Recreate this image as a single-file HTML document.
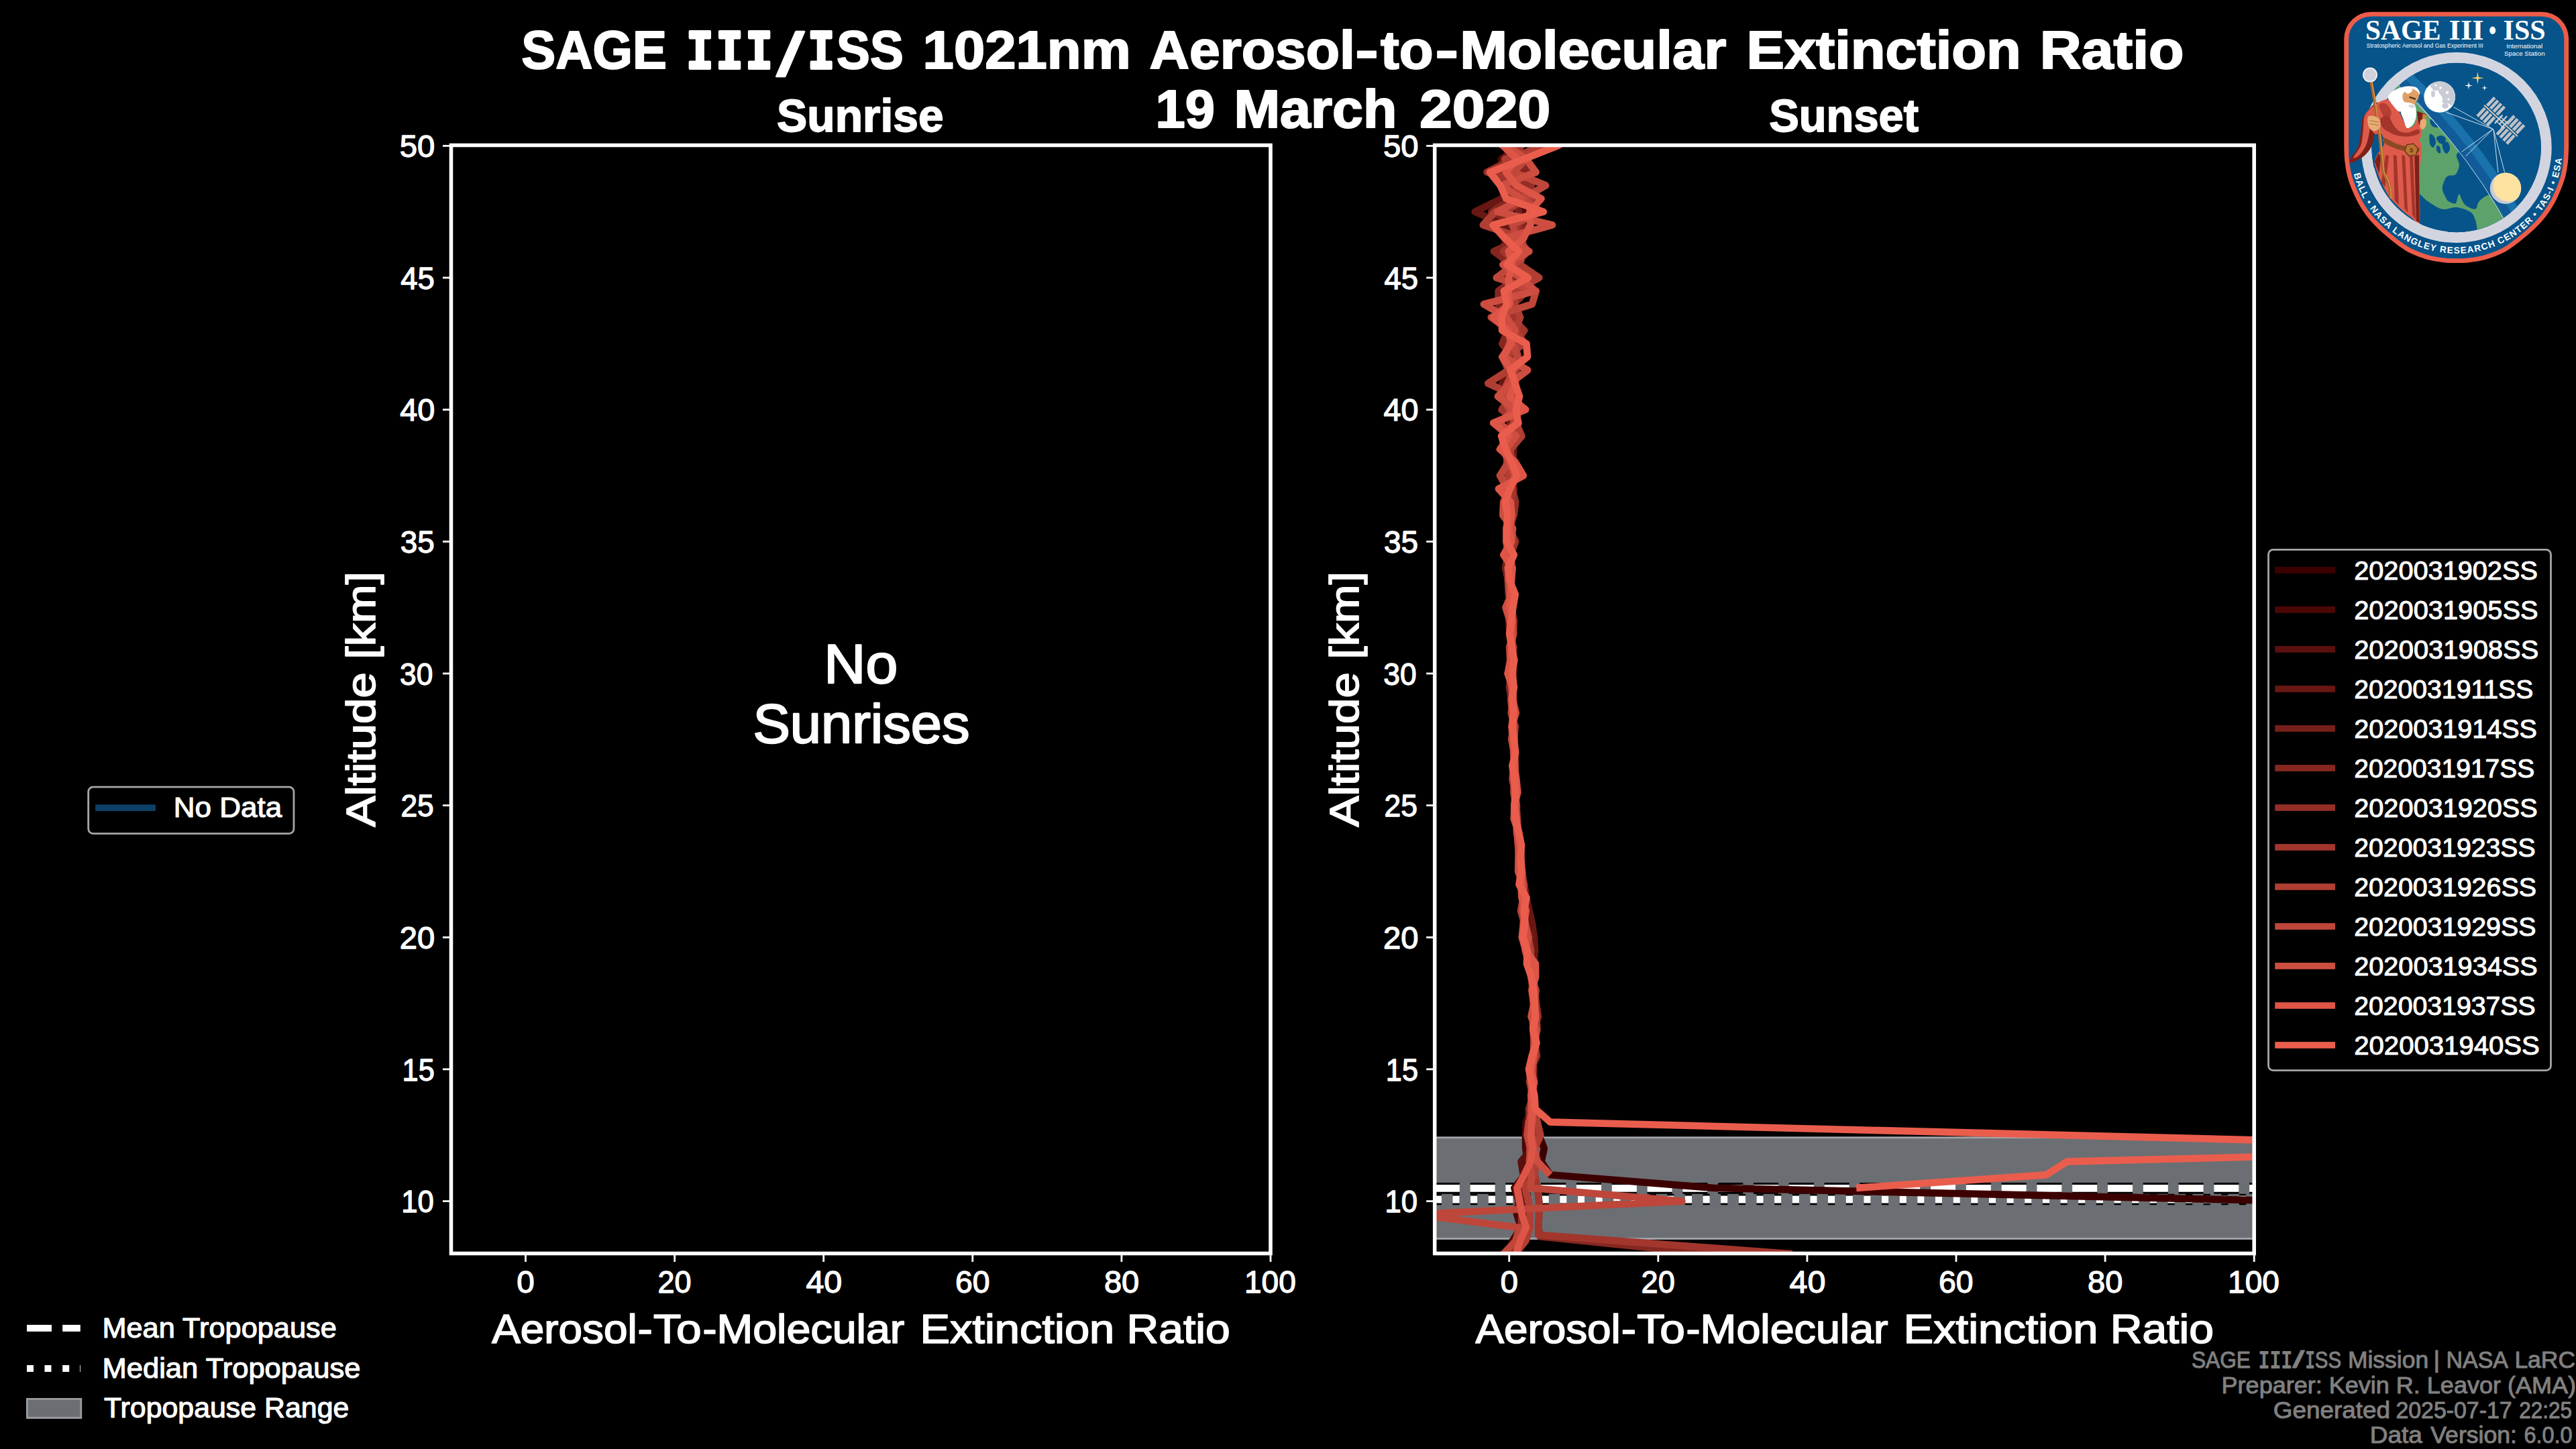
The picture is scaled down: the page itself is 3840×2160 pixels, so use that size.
<!DOCTYPE html>
<html lang="en"><head><meta charset="utf-8"><title>SAGE III/ISS 1021nm Aerosol-to-Molecular Extinction Ratio</title>
<style>html,body{margin:0;padding:0;background:#000;overflow:hidden}svg{display:block}text{font-family:'Liberation Sans',sans-serif}</style></head><body>
<svg width="3840" height="2160" viewBox="0 0 3840 2160">
<rect width="3840" height="2160" fill="#000"/>
<defs><clipPath id="c2"><rect x="2138.7" y="216.5" width="1221.5" height="1652.0"/></clipPath></defs>
<g clip-path="url(#c2)">
<rect x="2138.7" y="1695.7" width="1221.5" height="150.8" fill="#6b6f74" stroke="#a3a5a8" stroke-width="2.8"/>
<path d="M2138.7 1771.3H3360.2" stroke="#000" stroke-width="16.7" stroke-dasharray="37.2 15.6" fill="none"/>
<path d="M2138.7 1771.3H3360.2" stroke="#fff" stroke-width="10.8" stroke-dasharray="37.2 15.6" fill="none"/>
<path d="M2138.7 1788.0H3360.2" stroke="#000" stroke-width="16.7" stroke-dasharray="10.25 16.4" fill="none"/>
<path d="M2138.7 1788.0H3360.2" stroke="#fff" stroke-width="10.8" stroke-dasharray="10.25 16.4" fill="none"/>
<path d="M2253.9 197.7L2253.0 217.4L2247.6 237.1L2255.0 256.7L2268.9 276.4L2262.6 296.1L2268.3 315.7L2259.0 335.4L2259.3 355.1L2256.5 374.7L2241.6 394.4L2259.3 414.0L2256.7 433.7L2256.3 453.4L2243.2 473.0L2243.1 492.7L2247.9 512.4L2250.0 532.0L2253.6 551.7L2251.8 571.4L2253.9 591.0L2249.0 610.7L2252.5 630.4L2252.5 650.0L2249.0 669.7L2255.9 689.4L2252.3 709.0L2253.6 728.7L2249.1 748.4L2248.8 768.0L2249.6 787.7L2250.1 807.3L2251.6 827.0L2251.2 846.7L2250.6 866.3L2250.3 886.0L2251.2 905.7L2253.4 925.3L2251.5 945.0L2252.9 964.7L2253.3 984.3L2252.1 1004.0L2253.9 1023.7L2255.5 1043.3L2253.5 1063.0L2255.4 1082.7L2256.1 1102.3L2256.2 1122.0L2257.7 1141.7L2257.9 1161.3L2257.5 1181.0L2259.7 1200.7L2261.1 1220.3L2262.9 1240.0L2264.8 1259.6L2265.6 1279.3L2266.9 1299.0L2267.5 1318.6L2270.9 1338.3L2271.3 1358.0L2273.1 1377.6L2273.6 1397.3L2276.5 1417.0L2279.6 1436.6L2284.3 1456.3L2283.1 1476.0L2286.4 1495.6L2288.4 1515.3L2289.0 1535.0L2287.6 1554.6L2283.9 1574.3L2281.8 1593.9L2284.0 1613.6L2283.6 1633.3L2283.7 1652.9L2285.8 1672.6L2294.2 1692.3L2301.9 1711.9L2297.5 1731.6L2310.8 1751.3L2554.0 1770.9L3424.7 1790.6" stroke="#3d0000" stroke-width="10.6" fill="none" stroke-linejoin="round" stroke-linecap="butt" opacity="1"/>
<path d="M2250.4 197.7L2266.5 217.4L2237.6 237.1L2256.3 256.7L2270.9 276.4L2243.8 296.1L2278.4 315.7L2264.1 335.4L2255.5 355.1L2259.4 374.7L2261.0 394.4L2255.9 414.0L2263.2 433.7L2249.8 453.4L2251.5 473.0L2260.8 492.7L2254.1 512.4L2248.6 532.0L2258.7 551.7L2260.8 571.4L2250.9 591.0L2246.6 610.7L2252.1 630.4L2252.0 650.0L2251.3 669.7L2256.9 689.4L2248.8 709.0L2255.4 728.7L2248.2 748.4L2249.4 768.0L2252.5 787.7L2253.2 807.3L2252.9 827.0L2252.1 846.7L2252.0 866.3L2252.3 886.0L2253.1 905.7L2252.4 925.3L2253.2 945.0L2253.7 964.7L2253.4 984.3L2254.4 1004.0L2254.8 1023.7L2256.7 1043.3L2255.7 1063.0L2255.6 1082.7L2256.2 1102.3L2257.1 1122.0L2258.4 1141.7L2258.0 1161.3L2259.1 1181.0L2260.9 1200.7L2258.8 1220.3L2261.6 1240.0L2264.3 1259.6L2266.0 1279.3L2267.4 1299.0L2268.5 1318.6L2271.5 1338.3L2272.9 1358.0L2273.5 1377.6L2280.0 1397.3L2278.9 1417.0L2280.1 1436.6L2283.2 1456.3L2285.6 1476.0L2288.4 1495.6L2285.5 1515.3L2287.6 1535.0L2288.4 1554.6L2284.8 1574.3L2284.4 1593.9L2285.1 1613.6L2283.2 1633.3L2282.1 1652.9L2274.9 1672.6L2273.8 1692.3L2274.2 1711.9L2276.9 1731.6L2272.7 1751.3L2257.3 1770.9L2263.8 1790.6L2261.0 1810.3L2267.6 1829.9L2254.6 1849.6L2249.4 1869.3L2244.3 1888.9" stroke="#4b0806" stroke-width="10.6" fill="none" stroke-linejoin="round" stroke-linecap="butt" opacity="1"/>
<path d="M2266.1 197.7L2257.9 217.4L2255.6 237.1L2277.2 256.7L2271.8 276.4L2254.4 296.1L2295.7 315.7L2241.9 335.4L2266.8 355.1L2252.2 374.7L2255.6 394.4L2260.0 414.0L2255.5 433.7L2258.5 453.4L2241.5 473.0L2241.9 492.7L2257.0 512.4L2246.2 532.0L2246.0 551.7L2243.5 571.4L2258.9 591.0L2255.5 610.7L2258.6 630.4L2247.3 650.0L2251.2 669.7L2246.7 689.4L2253.6 709.0L2256.0 728.7L2247.9 748.4L2254.8 768.0L2252.8 787.7L2250.0 807.3L2246.6 827.0L2253.6 846.7L2251.1 866.3L2250.6 886.0L2252.4 905.7L2252.7 925.3L2254.4 945.0L2251.4 964.7L2254.3 984.3L2255.0 1004.0L2255.5 1023.7L2254.3 1043.3L2254.3 1063.0L2256.7 1082.7L2256.3 1102.3L2256.9 1122.0L2258.7 1141.7L2257.7 1161.3L2256.5 1181.0L2258.8 1200.7L2258.9 1220.3L2263.0 1240.0L2264.1 1259.6L2264.7 1279.3L2266.9 1299.0L2269.5 1318.6L2270.4 1338.3L2274.0 1358.0L2273.7 1377.6L2277.4 1397.3L2280.4 1417.0L2283.0 1436.6L2281.8 1456.3L2286.7 1476.0L2285.4 1495.6L2286.8 1515.3L2285.4 1535.0L2288.3 1554.6L2284.2 1574.3L2284.1 1593.9L2283.4 1613.6L2284.1 1633.3L2283.5 1652.9L2284.0 1672.6L2286.0 1692.3L2283.4 1711.9L2267.5 1731.6L2270.8 1751.3L2270.0 1770.9L2267.9 1790.6L2271.0 1810.3L2277.0 1829.9L2262.4 1849.6L2256.3 1869.3L2252.6 1888.9" stroke="#5a100d" stroke-width="10.6" fill="none" stroke-linejoin="round" stroke-linecap="butt" opacity="1"/>
<path d="M2268.9 197.7L2260.0 217.4L2241.5 237.1L2236.0 256.7L2249.9 276.4L2238.6 296.1L2198.7 315.7L2244.2 335.4L2247.2 355.1L2237.8 374.7L2254.5 394.4L2243.8 414.0L2258.6 433.7L2233.7 453.4L2257.6 473.0L2249.3 492.7L2239.2 512.4L2259.5 532.0L2252.0 551.7L2239.1 571.4L2248.1 591.0L2255.0 610.7L2250.7 630.4L2256.8 650.0L2256.2 669.7L2255.5 689.4L2253.8 709.0L2257.1 728.7L2254.2 748.4L2253.1 768.0L2245.6 787.7L2253.5 807.3L2254.6 827.0L2251.2 846.7L2251.1 866.3L2255.7 886.0L2249.5 905.7L2253.5 925.3L2256.7 945.0L2251.9 964.7L2254.4 984.3L2256.1 1004.0L2254.2 1023.7L2255.6 1043.3L2256.5 1063.0L2255.1 1082.7L2256.6 1102.3L2257.5 1122.0L2258.6 1141.7L2258.3 1161.3L2258.7 1181.0L2258.5 1200.7L2260.7 1220.3L2263.6 1240.0L2264.3 1259.6L2264.8 1279.3L2266.3 1299.0L2272.4 1318.6L2275.3 1338.3L2279.7 1358.0L2284.2 1377.6L2287.0 1397.3L2288.1 1417.0L2286.4 1436.6L2284.3 1456.3L2286.0 1476.0L2289.4 1495.6L2286.0 1515.3L2289.7 1535.0L2288.0 1554.6L2285.2 1574.3L2286.4 1593.9L2286.8 1613.6L2282.4 1633.3L2283.5 1652.9L2284.3 1672.6L2283.3 1692.3L2282.5 1711.9L2282.4 1731.6L2284.0 1751.3L2272.7 1770.9L2267.8 1790.6L2269.1 1810.3L2278.9 1829.9L2268.3 1849.6L2262.1 1869.3L2252.6 1888.9" stroke="#681713" stroke-width="10.6" fill="none" stroke-linejoin="round" stroke-linecap="butt" opacity="1"/>
<path d="M2221.7 197.7L2243.4 217.4L2254.6 237.1L2264.5 256.7L2244.6 276.4L2255.1 296.1L2264.3 315.7L2261.6 335.4L2264.2 355.1L2256.7 374.7L2249.1 394.4L2261.2 414.0L2252.9 433.7L2244.0 453.4L2246.0 473.0L2251.8 492.7L2250.6 512.4L2252.6 532.0L2251.1 551.7L2252.2 571.4L2249.8 591.0L2242.5 610.7L2252.8 630.4L2255.9 650.0L2252.2 669.7L2249.0 689.4L2251.7 709.0L2245.8 728.7L2242.5 748.4L2249.8 768.0L2246.7 787.7L2251.7 807.3L2247.2 827.0L2244.1 846.7L2248.4 866.3L2254.2 886.0L2250.6 905.7L2249.2 925.3L2250.7 945.0L2253.1 964.7L2253.3 984.3L2253.2 1004.0L2255.5 1023.7L2255.1 1043.3L2254.7 1063.0L2256.1 1082.7L2257.9 1102.3L2257.6 1122.0L2258.2 1141.7L2256.5 1161.3L2258.1 1181.0L2259.7 1200.7L2260.0 1220.3L2263.2 1240.0L2264.2 1259.6L2266.2 1279.3L2266.3 1299.0L2271.7 1318.6L2271.9 1338.3L2271.2 1358.0L2273.4 1377.6L2280.8 1397.3L2276.5 1417.0L2281.6 1436.6L2284.3 1456.3L2285.0 1476.0L2285.6 1495.6L2288.1 1515.3L2287.9 1535.0L2288.3 1554.6L2286.4 1574.3L2283.8 1593.9L2284.6 1613.6L2284.6 1633.3L2284.3 1652.9L2283.5 1672.6L2282.2 1692.3L2284.6 1711.9L2281.7 1731.6L2277.6 1751.3L2270.1 1770.9L2266.5 1790.6L2270.6 1810.3L2269.4 1829.9L2263.6 1849.6L2258.6 1869.3L2251.5 1888.9" stroke="#771f1a" stroke-width="10.6" fill="none" stroke-linejoin="round" stroke-linecap="butt" opacity="1"/>
<path d="M2232.4 197.7L2287.2 217.4L2265.8 237.1L2276.8 256.7L2242.0 276.4L2255.1 296.1L2223.3 315.7L2270.6 335.4L2271.3 355.1L2226.9 374.7L2253.7 394.4L2261.5 414.0L2233.6 433.7L2233.6 453.4L2242.2 473.0L2246.9 492.7L2239.7 512.4L2253.0 532.0L2254.6 551.7L2257.3 571.4L2257.3 591.0L2262.3 610.7L2259.2 630.4L2243.7 650.0L2248.6 669.7L2245.7 689.4L2245.9 709.0L2250.6 728.7L2250.8 748.4L2252.4 768.0L2245.1 787.7L2246.8 807.3L2250.7 827.0L2250.5 846.7L2250.6 866.3L2251.5 886.0L2250.3 905.7L2253.6 925.3L2253.1 945.0L2252.6 964.7L2252.0 984.3L2253.1 1004.0L2250.0 1023.7L2253.2 1043.3L2255.2 1063.0L2253.7 1082.7L2256.5 1102.3L2257.0 1122.0L2255.7 1141.7L2257.7 1161.3L2258.2 1181.0L2259.7 1200.7L2261.5 1220.3L2262.2 1240.0L2262.7 1259.6L2265.2 1279.3L2266.8 1299.0L2269.8 1318.6L2270.9 1338.3L2270.7 1358.0L2270.8 1377.6L2274.6 1397.3L2276.2 1417.0L2277.9 1436.6L2282.7 1456.3L2284.5 1476.0L2288.3 1495.6L2289.2 1515.3L2287.2 1535.0L2290.6 1554.6L2285.2 1574.3L2286.0 1593.9L2283.9 1613.6L2285.7 1633.3L2278.8 1652.9L2280.8 1672.6L2281.8 1692.3L2283.1 1711.9L2288.6 1731.6L2287.5 1751.3L2291.9 1770.9L2294.2 1790.6L2294.2 1810.3L2293.1 1829.9L2295.8 1843.3L2549.6 1869.3" stroke="#852720" stroke-width="10.6" fill="none" stroke-linejoin="round" stroke-linecap="butt" opacity="1"/>
<path d="M2263.0 197.7L2297.4 217.4L2254.7 237.1L2216.4 256.7L2283.0 276.4L2261.1 296.1L2243.2 315.7L2263.9 335.4L2268.4 355.1L2268.8 374.7L2245.2 394.4L2278.8 414.0L2276.6 433.7L2255.8 453.4L2258.5 473.0L2250.6 492.7L2269.5 512.4L2247.9 532.0L2260.8 551.7L2250.2 571.4L2248.5 591.0L2259.4 610.7L2263.2 630.4L2253.5 650.0L2249.3 669.7L2257.9 689.4L2252.8 709.0L2254.3 728.7L2259.3 748.4L2256.7 768.0L2249.9 787.7L2259.1 807.3L2251.9 827.0L2254.3 846.7L2250.6 866.3L2252.4 886.0L2248.8 905.7L2256.8 925.3L2256.0 945.0L2251.2 964.7L2251.1 984.3L2251.4 1004.0L2256.4 1023.7L2254.4 1043.3L2255.6 1063.0L2255.8 1082.7L2256.6 1102.3L2255.9 1122.0L2258.0 1141.7L2256.6 1161.3L2259.0 1181.0L2260.1 1200.7L2261.9 1220.3L2262.5 1240.0L2263.0 1259.6L2266.2 1279.3L2266.8 1299.0L2271.8 1318.6L2272.6 1338.3L2272.7 1358.0L2273.6 1377.6L2274.7 1397.3L2276.5 1417.0L2280.5 1436.6L2284.5 1456.3L2287.4 1476.0L2290.0 1495.6L2292.9 1515.3L2287.2 1535.0L2287.8 1554.6L2291.1 1574.3L2281.5 1593.9L2283.5 1613.6L2284.0 1633.3L2283.0 1652.9L2281.7 1672.6L2278.3 1692.3L2280.3 1711.9L2280.6 1731.6L2277.7 1751.3L2261.1 1770.9L2263.9 1790.6L2268.2 1810.3L2267.9 1829.9L2258.8 1849.6L2255.7 1869.3L2244.5 1888.9" stroke="#942e26" stroke-width="10.6" fill="none" stroke-linejoin="round" stroke-linecap="butt" opacity="1"/>
<path d="M2263.6 197.7L2267.6 217.4L2255.9 237.1L2229.2 256.7L2258.5 276.4L2269.6 296.1L2247.1 315.7L2256.0 335.4L2271.5 355.1L2241.0 374.7L2265.7 394.4L2281.3 414.0L2247.4 433.7L2256.6 453.4L2252.6 473.0L2272.3 492.7L2257.6 512.4L2263.3 532.0L2246.8 551.7L2253.3 571.4L2253.2 591.0L2238.5 610.7L2263.8 630.4L2259.0 650.0L2241.0 669.7L2257.0 689.4L2251.4 709.0L2254.3 728.7L2253.5 748.4L2244.9 768.0L2250.4 787.7L2256.4 807.3L2249.5 827.0L2248.5 846.7L2248.1 866.3L2249.0 886.0L2253.2 905.7L2256.5 925.3L2253.8 945.0L2253.7 964.7L2257.6 984.3L2252.8 1004.0L2253.2 1023.7L2255.8 1043.3L2256.3 1063.0L2254.4 1082.7L2254.8 1102.3L2257.6 1122.0L2258.1 1141.7L2256.5 1161.3L2258.6 1181.0L2258.6 1200.7L2261.7 1220.3L2262.4 1240.0L2264.0 1259.6L2265.1 1279.3L2269.1 1299.0L2271.5 1318.6L2270.0 1338.3L2274.6 1358.0L2272.4 1377.6L2276.4 1397.3L2280.5 1417.0L2284.9 1436.6L2282.5 1456.3L2285.8 1476.0L2288.9 1495.6L2285.6 1515.3L2288.2 1535.0L2286.3 1554.6L2286.7 1574.3L2282.4 1593.9L2280.1 1613.6L2285.2 1633.3L2286.6 1652.9L2284.6 1672.6L2288.4 1692.3L2285.5 1711.9L2285.6 1731.6L2287.5 1751.3L2291.9 1770.9L2294.2 1790.6L2294.2 1810.3L2293.1 1829.9L2293.1 1840.9L2671.7 1869.3" stroke="#a2362d" stroke-width="10.6" fill="none" stroke-linejoin="round" stroke-linecap="butt" opacity="1"/>
<path d="M2242.2 197.7L2307.5 217.4L2243.4 237.1L2258.4 256.7L2262.6 276.4L2283.1 296.1L2228.7 315.7L2210.8 335.4L2269.1 355.1L2270.9 374.7L2265.6 394.4L2294.3 414.0L2257.3 433.7L2257.7 453.4L2266.2 473.0L2258.4 492.7L2273.4 512.4L2239.3 532.0L2249.1 551.7L2218.2 571.4L2260.4 591.0L2249.2 610.7L2259.9 630.4L2268.4 650.0L2251.9 669.7L2250.1 689.4L2248.6 709.0L2246.7 728.7L2248.0 748.4L2254.1 768.0L2251.0 787.7L2251.1 807.3L2250.5 827.0L2254.3 846.7L2253.1 866.3L2251.5 886.0L2253.9 905.7L2252.0 925.3L2250.0 945.0L2256.1 964.7L2254.2 984.3L2251.8 1004.0L2256.1 1023.7L2255.3 1043.3L2252.6 1063.0L2258.6 1082.7L2257.0 1102.3L2258.4 1122.0L2257.9 1141.7L2257.9 1161.3L2256.3 1181.0L2260.9 1200.7L2260.9 1220.3L2261.9 1240.0L2264.6 1259.6L2265.7 1279.3L2268.4 1299.0L2268.1 1318.6L2270.5 1338.3L2267.0 1358.0L2272.9 1377.6L2278.0 1397.3L2282.2 1417.0L2279.7 1436.6L2282.9 1456.3L2289.7 1476.0L2287.5 1495.6L2290.1 1515.3L2291.4 1535.0L2287.4 1554.6L2288.3 1574.3L2282.9 1593.9L2284.4 1613.6L2285.8 1633.3L2288.0 1652.9L2291.7 1672.6L2296.5 1692.3L2287.8 1711.9L2289.2 1731.6L2287.7 1751.3L2273.5 1770.9L2278.7 1790.6L2280.7 1810.3L2280.5 1829.9L2274.4 1849.6L2258.5 1869.3L2259.9 1888.9" stroke="#b03e33" stroke-width="10.6" fill="none" stroke-linejoin="round" stroke-linecap="butt" opacity="1"/>
<path d="M2241.1 197.7L2244.7 217.4L2274.5 237.1L2256.9 256.7L2304.2 276.4L2269.7 296.1L2295.7 315.7L2254.6 335.4L2261.6 355.1L2277.8 374.7L2256.8 394.4L2230.7 414.0L2289.8 433.7L2283.8 453.4L2222.8 473.0L2250.1 492.7L2255.8 512.4L2261.9 532.0L2257.7 551.7L2246.9 571.4L2239.0 591.0L2250.4 610.7L2258.3 630.4L2240.3 650.0L2241.1 669.7L2248.6 689.4L2235.9 709.0L2247.1 728.7L2246.3 748.4L2251.0 768.0L2245.6 787.7L2245.4 807.3L2247.9 827.0L2249.6 846.7L2248.0 866.3L2250.6 886.0L2253.0 905.7L2254.4 925.3L2255.8 945.0L2250.1 964.7L2251.3 984.3L2247.6 1004.0L2257.0 1023.7L2252.4 1043.3L2254.4 1063.0L2256.0 1082.7L2253.2 1102.3L2257.0 1122.0L2256.8 1141.7L2254.5 1161.3L2258.5 1181.0L2260.6 1200.7L2256.8 1220.3L2263.1 1240.0L2263.5 1259.6L2265.6 1279.3L2267.1 1299.0L2270.6 1318.6L2269.0 1338.3L2273.5 1358.0L2271.5 1377.6L2276.8 1397.3L2274.1 1417.0L2279.0 1436.6L2286.8 1456.3L2285.7 1476.0L2286.7 1495.6L2284.7 1515.3L2285.3 1535.0L2286.8 1554.6L2286.9 1574.3L2284.3 1593.9L2284.1 1613.6L2282.2 1633.3L2285.1 1652.9L2278.7 1672.6L2276.4 1692.3L2281.4 1711.9L2279.7 1731.6L2283.1 1751.3L2282.0 1770.9L2507.4 1790.6L2108.7 1810.3L2264.7 1829.9L2259.7 1849.6L2240.9 1869.3L2246.0 1888.9" stroke="#bf463a" stroke-width="10.6" fill="none" stroke-linejoin="round" stroke-linecap="butt" opacity="1"/>
<path d="M2247.9 197.7L2246.6 217.4L2275.2 237.1L2289.6 256.7L2238.4 276.4L2268.7 296.1L2232.3 315.7L2314.0 335.4L2242.9 355.1L2279.4 374.7L2240.3 394.4L2266.4 414.0L2288.8 433.7L2211.9 453.4L2245.2 473.0L2258.7 492.7L2250.1 512.4L2242.5 532.0L2277.2 551.7L2251.6 571.4L2232.8 591.0L2258.9 610.7L2234.1 630.4L2259.9 650.0L2245.2 669.7L2250.7 689.4L2258.4 709.0L2250.3 728.7L2241.2 748.4L2240.3 768.0L2255.1 787.7L2252.7 807.3L2246.6 827.0L2253.4 846.7L2252.3 866.3L2253.0 886.0L2244.5 905.7L2250.7 925.3L2254.3 945.0L2254.0 964.7L2254.6 984.3L2247.6 1004.0L2253.9 1023.7L2255.1 1043.3L2259.8 1063.0L2253.4 1082.7L2255.2 1102.3L2256.5 1122.0L2258.6 1141.7L2256.9 1161.3L2260.2 1181.0L2257.3 1200.7L2260.8 1220.3L2260.8 1240.0L2263.7 1259.6L2263.5 1279.3L2263.1 1299.0L2270.5 1318.6L2270.6 1338.3L2269.9 1358.0L2273.8 1377.6L2278.3 1397.3L2273.8 1417.0L2279.3 1436.6L2283.9 1456.3L2286.4 1476.0L2286.6 1495.6L2282.4 1515.3L2290.2 1535.0L2287.4 1554.6L2285.2 1574.3L2283.0 1593.9L2283.8 1613.6L2283.1 1633.3L2282.1 1652.9L2282.6 1672.6L2282.8 1692.3L2286.4 1711.9L2291.9 1731.6L2310.8 1751.3" stroke="#cd4e40" stroke-width="10.6" fill="none" stroke-linejoin="round" stroke-linecap="butt" opacity="1"/>
<path d="M2211.6 197.7L2240.8 217.4L2261.4 237.1L2244.9 256.7L2260.4 276.4L2297.5 296.1L2280.1 315.7L2281.4 335.4L2270.9 355.1L2248.8 374.7L2254.2 394.4L2249.2 414.0L2248.5 433.7L2250.7 453.4L2226.0 473.0L2248.2 492.7L2252.8 512.4L2239.5 532.0L2252.4 551.7L2258.7 571.4L2250.4 591.0L2274.2 610.7L2226.1 630.4L2249.8 650.0L2235.9 669.7L2259.2 689.4L2270.9 709.0L2233.9 728.7L2251.7 748.4L2253.7 768.0L2249.0 787.7L2253.1 807.3L2241.3 827.0L2254.5 846.7L2252.8 866.3L2251.8 886.0L2250.1 905.7L2254.2 925.3L2251.2 945.0L2253.4 964.7L2251.8 984.3L2248.3 1004.0L2253.9 1023.7L2255.0 1043.3L2256.8 1063.0L2253.9 1082.7L2256.3 1102.3L2258.1 1122.0L2257.8 1141.7L2260.3 1161.3L2262.4 1181.0L2257.4 1200.7L2256.9 1220.3L2264.1 1240.0L2267.1 1259.6L2267.4 1279.3L2268.8 1299.0L2267.3 1318.6L2268.5 1338.3L2274.9 1358.0L2270.8 1377.6L2268.8 1397.3L2274.4 1417.0L2289.0 1436.6L2289.2 1456.3L2283.5 1476.0L2286.1 1495.6L2288.9 1515.3L2286.0 1535.0L2290.2 1554.6L2285.6 1574.3L2281.5 1593.9L2287.2 1613.6L2282.6 1633.3L2285.0 1652.9L2283.6 1672.6L2281.8 1692.3L2284.5 1711.9L2281.7 1731.6L2272.1 1751.3L2261.5 1770.9L2265.2 1790.6L2268.9 1810.3L2274.8 1829.9L2266.1 1849.6L2260.0 1869.3L2251.0 1888.9" stroke="#dc5547" stroke-width="10.6" fill="none" stroke-linejoin="round" stroke-linecap="butt" opacity="1"/>
<path d="M2355.2 197.7L2321.9 217.4L2272.0 237.1L2220.9 256.7L2236.4 276.4L2245.3 296.1L2300.8 315.7L2225.3 335.4L2243.1 355.1L2264.2 374.7L2246.4 394.4L2278.0 414.0L2241.9 433.7L2246.0 453.4L2238.5 473.0L2239.1 492.7L2275.5 512.4L2277.0 532.0L2251.6 551.7L2258.4 571.4L2265.1 591.0L2259.8 610.7L2263.1 630.4L2238.1 650.0L2244.4 669.7L2253.8 689.4L2261.1 709.0L2250.6 728.7L2244.0 748.4L2247.5 768.0L2246.0 787.7L2245.6 807.3L2256.8 827.0L2247.8 846.7L2250.8 866.3L2258.7 886.0L2255.4 905.7L2252.8 925.3L2250.2 945.0L2253.5 964.7L2256.9 984.3L2254.5 1004.0L2256.6 1023.7L2254.4 1043.3L2255.9 1063.0L2254.9 1082.7L2256.9 1102.3L2259.2 1122.0L2254.3 1141.7L2257.6 1161.3L2258.8 1181.0L2257.7 1200.7L2259.7 1220.3L2263.7 1240.0L2268.0 1259.6L2266.5 1279.3L2267.3 1299.0L2264.5 1318.6L2275.4 1338.3L2271.9 1358.0L2273.2 1377.6L2270.4 1397.3L2277.1 1417.0L2275.9 1436.6L2282.7 1456.3L2286.5 1476.0L2287.7 1495.6L2288.6 1515.3L2285.2 1535.0L2290.3 1554.6L2283.6 1574.3L2279.0 1593.9L2282.8 1613.6L2287.5 1633.3L2288.6 1652.9L2310.8 1672.6L3854.4 1711.9L3081.5 1731.6L3050.4 1751.3L2767.2 1770.9" stroke="#ea5d4d" stroke-width="10.6" fill="none" stroke-linejoin="round" stroke-linecap="butt" opacity="1"/>
</g>
<rect x="660.0" y="1789.2" width="10" height="2.8" fill="#fff"/>
<rect x="660.0" y="1592.5" width="10" height="2.8" fill="#fff"/>
<rect x="660.0" y="1395.9" width="10" height="2.8" fill="#fff"/>
<rect x="660.0" y="1199.2" width="10" height="2.8" fill="#fff"/>
<rect x="660.0" y="1002.6" width="10" height="2.8" fill="#fff"/>
<rect x="660.0" y="805.9" width="10" height="2.8" fill="#fff"/>
<rect x="660.0" y="609.3" width="10" height="2.8" fill="#fff"/>
<rect x="660.0" y="412.6" width="10" height="2.8" fill="#fff"/>
<rect x="660.0" y="216.0" width="10" height="2.8" fill="#fff"/>
<rect x="782.1" y="1871.0" width="2.8" height="10" fill="#fff"/>
<rect x="1004.3" y="1871.0" width="2.8" height="10" fill="#fff"/>
<rect x="1226.3" y="1871.0" width="2.8" height="10" fill="#fff"/>
<rect x="1448.4" y="1871.0" width="2.8" height="10" fill="#fff"/>
<rect x="1670.5" y="1871.0" width="2.8" height="10" fill="#fff"/>
<rect x="1892.6" y="1871.0" width="2.8" height="10" fill="#fff"/>
<rect x="672.5" y="216.5" width="1221.5" height="1652.0" fill="none" stroke="#fff" stroke-width="5.56"/>
<rect x="2126.2" y="1789.2" width="10" height="2.8" fill="#fff"/>
<rect x="2126.2" y="1592.5" width="10" height="2.8" fill="#fff"/>
<rect x="2126.2" y="1395.9" width="10" height="2.8" fill="#fff"/>
<rect x="2126.2" y="1199.2" width="10" height="2.8" fill="#fff"/>
<rect x="2126.2" y="1002.6" width="10" height="2.8" fill="#fff"/>
<rect x="2126.2" y="805.9" width="10" height="2.8" fill="#fff"/>
<rect x="2126.2" y="609.3" width="10" height="2.8" fill="#fff"/>
<rect x="2126.2" y="412.6" width="10" height="2.8" fill="#fff"/>
<rect x="2126.2" y="216.0" width="10" height="2.8" fill="#fff"/>
<rect x="2248.3" y="1871.0" width="2.8" height="10" fill="#fff"/>
<rect x="2470.4" y="1871.0" width="2.8" height="10" fill="#fff"/>
<rect x="2692.5" y="1871.0" width="2.8" height="10" fill="#fff"/>
<rect x="2914.6" y="1871.0" width="2.8" height="10" fill="#fff"/>
<rect x="3136.7" y="1871.0" width="2.8" height="10" fill="#fff"/>
<rect x="3358.8" y="1871.0" width="2.8" height="10" fill="#fff"/>
<rect x="2138.7" y="216.5" width="1221.5" height="1652.0" fill="none" stroke="#fff" stroke-width="5.56"/>
<rect x="3381.5" y="819.4" width="421" height="776.2" rx="7" fill="#000" stroke="#a6a6a6" stroke-width="2.8"/>
<rect x="3391.2" y="845.0" width="89.8" height="9.7" fill="#3d0000"/>
<rect x="3391.2" y="904.0" width="89.8" height="9.7" fill="#4b0806"/>
<rect x="3391.2" y="963.0" width="89.8" height="9.7" fill="#5a100d"/>
<rect x="3391.2" y="1022.1" width="89.8" height="9.7" fill="#681713"/>
<rect x="3391.2" y="1081.1" width="89.8" height="9.7" fill="#771f1a"/>
<rect x="3391.2" y="1140.1" width="89.8" height="9.7" fill="#852720"/>
<rect x="3391.2" y="1199.1" width="89.8" height="9.7" fill="#942e26"/>
<rect x="3391.2" y="1258.1" width="89.8" height="9.7" fill="#a2362d"/>
<rect x="3391.2" y="1317.1" width="89.8" height="9.7" fill="#b03e33"/>
<rect x="3391.2" y="1376.1" width="89.8" height="9.7" fill="#bf463a"/>
<rect x="3391.2" y="1435.1" width="89.8" height="9.7" fill="#cd4e40"/>
<rect x="3391.2" y="1494.1" width="89.8" height="9.7" fill="#dc5547"/>
<rect x="3391.2" y="1553.1" width="89.8" height="9.7" fill="#ea5d4d"/>
<rect x="131.7" y="1173.1" width="306.3" height="69.5" rx="7" fill="#000" stroke="#a6a6a6" stroke-width="2.8"/>
<rect x="142.1" y="1199.3" width="89.8" height="9.7" fill="#0d4168"/>
<rect x="40" y="1974.9" width="37" height="10" fill="#fff"/><rect x="93.2" y="1974.9" width="26.6" height="10" fill="#fff"/>
<rect x="40" y="2035" width="10" height="10" fill="#fff"/>
<rect x="66.5" y="2035" width="10" height="10" fill="#fff"/>
<rect x="93.2" y="2035" width="10" height="10" fill="#fff"/>
<rect x="119" y="2035" width="0.8" height="10" fill="#fff"/>
<rect x="40.4" y="2085.4" width="80.4" height="28.2" fill="#6b6f74" stroke="#9a9c9f" stroke-width="2.8"/>
<g id="logo">
<path d="M3494.3 220.0V57.7A40.0 40.0 0 0 1 3534.3 17.7H3789.1A40.0 40.0 0 0 1 3829.1 57.7V220.0C3828.9 223.7 3828.8 234.7 3827.9 242.0C3827.0 249.3 3825.9 256.7 3823.9 264.0C3821.9 271.3 3819.1 278.7 3815.9 286.0C3812.7 293.3 3809.4 300.7 3804.9 308.0C3800.4 315.3 3795.4 322.7 3788.9 330.0C3782.4 337.3 3774.0 345.1 3765.9 352.0C3757.8 358.9 3747.7 366.7 3740.4 371.5C3733.1 376.3 3728.4 378.3 3721.9 381.0C3715.4 383.7 3708.3 386.1 3701.4 387.8C3694.5 389.5 3687.1 390.5 3680.5 391.2C3673.9 391.9 3668.0 392.0 3661.7 392.0C3655.4 392.0 3649.5 391.9 3642.9 391.2C3636.3 390.5 3628.9 389.5 3622.0 387.8C3615.1 386.1 3608.0 383.7 3601.5 381.0C3595.0 378.3 3590.3 376.3 3583.0 371.5C3575.7 366.7 3565.6 358.9 3557.5 352.0C3549.4 345.1 3541.0 337.3 3534.5 330.0C3528.0 322.7 3523.0 315.3 3518.5 308.0C3514.0 300.7 3510.7 293.3 3507.5 286.0C3504.3 278.7 3501.5 271.3 3499.5 264.0C3497.5 256.7 3496.4 249.3 3495.5 242.0C3494.6 234.7 3494.5 223.7 3494.3 220.0Z" fill="#ed5c49"/>
<path d="M3501.1 219.4V57.7A33.2 33.2 0 0 1 3534.3 24.5H3789.1A33.2 33.2 0 0 1 3822.3 57.7V219.4C3822.1 222.9 3822.1 233.5 3821.3 240.5C3820.5 247.6 3819.4 254.6 3817.5 261.7C3815.6 268.7 3812.9 275.8 3809.9 282.8C3806.9 289.9 3803.7 297.0 3799.4 304.0C3795.1 311.1 3790.3 318.2 3784.0 325.2C3777.8 332.3 3769.7 339.8 3762.0 346.5C3754.2 353.1 3744.5 360.7 3737.5 365.4C3730.4 370.0 3726.0 371.9 3719.7 374.6C3713.4 377.2 3706.6 379.5 3700.0 381.2C3693.3 382.8 3686.2 383.8 3679.8 384.4C3673.4 385.1 3667.7 385.2 3661.7 385.2C3655.7 385.2 3650.0 385.1 3643.6 384.4C3637.2 383.8 3630.1 382.8 3623.4 381.2C3616.8 379.5 3610.0 377.2 3603.7 374.6C3597.4 371.9 3593.0 370.0 3585.9 365.4C3578.9 360.7 3569.2 353.1 3561.4 346.5C3553.7 339.8 3545.6 332.3 3539.4 325.2C3533.1 318.2 3528.3 311.1 3524.0 304.0C3519.7 297.0 3516.5 289.9 3513.5 282.8C3510.5 275.8 3507.8 268.7 3505.9 261.7C3504.0 254.6 3502.9 247.6 3502.1 240.5C3501.3 233.5 3501.3 222.9 3501.1 219.4Z" fill="#07548b"/>
<circle cx="3661.7" cy="220.0" r="134" fill="none" stroke="#d2d5e0" stroke-width="16"/>
<defs><clipPath id="disc"><circle cx="3661.7" cy="220.0" r="126.3"/></clipPath><clipPath id="earth"><circle cx="3013.6" cy="732.3" r="825.7"/></clipPath></defs>
<g clip-path="url(#disc)">
<circle cx="3661.7" cy="220.0" r="127" fill="#07548b"/>
<circle cx="3013.6" cy="732.3" r="845.5" fill="none" stroke="#1a72ad" stroke-width="13"/>
<circle cx="3013.6" cy="732.3" r="832.5" fill="none" stroke="#115c98" stroke-width="14"/>
<circle cx="3013.6" cy="732.3" r="825.7" fill="#07548b"/>
<g clip-path="url(#earth)">
<path d="M3566.0 118.0C3569.9 118.0 3590.1 138.7 3601.6 150.0C3613.1 161.3 3624.6 174.3 3635.0 186.0C3645.4 197.7 3659.6 212.3 3664.0 220.0C3668.4 227.7 3661.4 227.8 3661.7 232.1C3662.0 236.4 3666.1 241.4 3665.9 246.1C3665.7 250.8 3663.0 257.5 3660.3 260.1C3657.7 262.8 3652.6 260.8 3650.0 262.0C3647.4 263.2 3646.5 263.9 3644.9 267.1C3643.3 270.3 3640.7 276.7 3640.7 281.0C3640.7 285.3 3643.4 289.7 3645.0 293.0C3646.6 296.3 3647.9 298.9 3650.5 300.6C3653.1 302.3 3658.2 304.2 3660.3 303.4C3662.4 302.6 3662.1 298.3 3663.0 296.0C3663.9 293.7 3664.7 289.1 3665.9 289.4C3667.1 289.7 3668.4 295.2 3670.0 298.0C3671.6 300.8 3672.3 303.9 3675.6 306.2C3678.9 308.5 3686.5 312.3 3689.6 311.8C3692.7 311.3 3692.6 305.3 3694.0 303.0C3695.4 300.7 3695.5 299.8 3698.0 297.8C3700.5 295.8 3705.9 291.4 3709.2 290.8C3712.5 290.2 3715.2 290.6 3718.0 294.0C3720.8 297.4 3723.0 305.8 3726.0 311.0C3729.0 316.2 3735.3 319.8 3736.0 325.0C3736.7 330.2 3736.0 337.5 3730.0 342.0C3724.0 346.5 3706.0 351.5 3700.0 352.0C3694.0 352.5 3695.5 349.0 3693.8 345.0C3692.1 341.0 3691.9 332.8 3690.0 328.0C3688.1 323.2 3687.3 319.2 3682.6 316.0C3677.9 312.8 3668.7 309.7 3661.7 309.0C3654.7 308.3 3647.7 313.2 3640.7 311.8C3633.7 310.4 3625.3 304.3 3619.7 300.6C3614.1 296.9 3610.8 291.8 3607.2 289.4C3603.6 287.0 3600.5 300.9 3598.0 286.0C3595.5 271.1 3595.3 222.7 3592.0 200.0C3588.7 177.3 3582.3 163.7 3578.0 150.0C3573.7 136.3 3562.1 118.0 3566.0 118.0Z" fill="#5ea26b"/>
<path d="M3622.0 200.0C3623.0 198.2 3626.5 201.0 3628.0 203.0C3629.5 205.0 3631.2 209.2 3631.0 212.0C3630.8 214.8 3628.5 219.7 3627.0 220.0C3625.5 220.3 3622.8 217.3 3622.0 214.0C3621.2 210.7 3621.0 201.8 3622.0 200.0Z" fill="#07548b"/>
<path d="M3632.0 205.0C3632.7 203.2 3637.7 201.7 3640.0 202.0C3642.3 202.3 3645.5 205.0 3646.0 207.0C3646.5 209.0 3644.7 213.0 3643.0 214.0C3641.3 215.0 3637.8 214.5 3636.0 213.0C3634.2 211.5 3631.3 206.8 3632.0 205.0Z" fill="#07548b"/>
<path d="M3641.0 214.0C3642.2 212.2 3647.2 210.7 3649.0 212.0C3650.8 213.3 3652.3 219.2 3652.0 222.0C3651.7 224.8 3648.7 228.8 3647.0 229.0C3645.3 229.2 3643.0 225.5 3642.0 223.0C3641.0 220.5 3639.8 215.8 3641.0 214.0Z" fill="#07548b"/>
<path d="M3632.0 218.0C3632.7 216.8 3636.0 217.3 3637.0 219.0C3638.0 220.7 3638.7 226.8 3638.0 228.0C3637.3 229.2 3634.0 227.7 3633.0 226.0C3632.0 224.3 3631.3 219.2 3632.0 218.0Z" fill="#07548b"/>
<path d="M3623.0 178.0C3624.3 177.0 3629.8 178.3 3632.0 180.0C3634.2 181.7 3636.3 186.3 3636.0 188.0C3635.7 189.7 3632.0 190.3 3630.0 190.0C3628.0 189.7 3625.2 188.0 3624.0 186.0C3622.8 184.0 3621.7 179.0 3623.0 178.0Z" fill="#07548b"/>
</g>
<circle cx="3013.6" cy="732.3" r="825.7" fill="none" stroke="#dfeaf5" stroke-width="0.9"/>
<line x1="3716.2" y1="192.4" x2="3657.5" y2="159.6" stroke="#e8f0f8" stroke-width="0.9"/>
<line x1="3716.2" y1="192.4" x2="3646.3" y2="167.3" stroke="#e8f0f8" stroke-width="0.9"/>
<line x1="3716.2" y1="192.4" x2="3670" y2="226" stroke="#e8f0f8" stroke-width="0.9"/>
<line x1="3716.2" y1="192.4" x2="3675.6" y2="233" stroke="#e8f0f8" stroke-width="0.9"/>
<line x1="3717" y1="193" x2="3723.9" y2="257.4" stroke="#e8f0f8" stroke-width="0.9"/>
<line x1="3717" y1="193" x2="3733.6" y2="256.7" stroke="#e8f0f8" stroke-width="0.9"/>
<line x1="3603" y1="152" x2="3636" y2="190" stroke="#e8f0f8" stroke-width="0.9"/>
<circle cx="3636.7" cy="144.5" r="23.3" fill="#fff"/>
<defs><clipPath id="moon"><circle cx="3636.7" cy="144.5" r="23.3"/></clipPath></defs>
<g clip-path="url(#moon)" fill="#c9ccd6">
<path d="M3622 128C3630 118 3650 118 3658 132C3662 142 3660 152 3654 158C3650 150 3646 158 3640 152C3644 144 3636 142 3634 134C3628 138 3626 132 3622 128Z"/>
<ellipse cx="3645" cy="158" rx="5" ry="4"/><ellipse cx="3627" cy="140" rx="3" ry="5"/>
</g>
<g fill="#fff"><circle cx="3631" cy="127" r="1.6"/><circle cx="3638" cy="131" r="1.8"/><circle cx="3648" cy="138" r="2.2"/><circle cx="3650" cy="148" r="1.6"/></g>
<circle cx="3735" cy="280.7" r="23.2" fill="#c9ccd6"/>
<defs><clipPath id="sun"><circle cx="3735" cy="280.7" r="23.2"/></clipPath></defs>
<circle cx="3740" cy="277" r="23.6" fill="#fee2a0" clip-path="url(#sun)"/>
<polygon points="3693.4,106.8 3694.7,115.0 3702.9,116.3 3694.7,117.6 3693.4,125.8 3692.1,117.6 3683.9,116.3 3692.1,115.0" fill="#fbd36a"/>
<polygon points="3680.0,121.5 3680.9,126.6 3686.0,127.5 3680.9,128.4 3680.0,133.5 3679.1,128.4 3674.0,127.5 3679.1,126.6" fill="#fff"/>
<polygon points="3703.6,126.5 3704.3,130.3 3708.1,131.0 3704.3,131.7 3703.6,135.5 3702.9,131.7 3699.1,131.0 3702.9,130.3" fill="#fff"/>
<g fill="#bfc1c7">
<polygon points="3705.9,156.0 3709.3,159.1 3720.6,147.1 3717.2,143.9"/>
<polygon points="3691.3,171.7 3694.6,174.9 3705.9,162.8 3702.5,159.7"/>
<polygon points="3710.8,160.5 3714.1,163.6 3725.4,151.6 3722.0,148.4"/>
<polygon points="3696.1,176.2 3699.5,179.4 3710.7,167.3 3707.4,164.2"/>
<polygon points="3715.6,165.0 3719.0,168.1 3730.2,156.1 3726.8,152.9"/>
<polygon points="3700.9,180.7 3704.3,183.9 3715.5,171.8 3712.2,168.7"/>
<polygon points="3720.4,169.5 3723.8,172.6 3735.0,160.6 3731.7,157.4"/>
<polygon points="3705.8,185.2 3709.1,188.4 3720.4,176.3 3717.0,173.2"/>
<polygon points="3735.2,183.3 3738.6,186.4 3749.8,174.4 3746.4,171.2"/>
<polygon points="3720.5,199.0 3723.9,202.1 3735.1,190.1 3731.8,186.9"/>
<polygon points="3740.0,187.8 3743.4,190.9 3754.6,178.9 3751.3,175.7"/>
<polygon points="3725.4,203.5 3728.7,206.6 3740.0,194.6 3736.6,191.4"/>
<polygon points="3744.8,192.3 3748.2,195.4 3759.5,183.4 3756.1,180.2"/>
<polygon points="3730.2,208.0 3733.5,211.2 3744.8,199.1 3741.4,195.9"/>
<polygon points="3749.7,196.8 3753.0,199.9 3764.3,187.9 3760.9,184.7"/>
<polygon points="3735.0,212.5 3738.4,215.7 3749.6,203.6 3746.3,200.4"/>
</g>
<line x1="3703.1" y1="156.8" x2="3752.9" y2="203.2" stroke="#d6c7b4" stroke-width="2"/>
<line x1="3718.9" y1="183.9" x2="3730.5" y2="171.4" stroke="#cfd1d6" stroke-width="2.2"/>
<line x1="3725.4" y1="185.8" x2="3737.0" y2="173.3" stroke="#cfd1d6" stroke-width="2.2"/>
<line x1="3728.4" y1="191.3" x2="3737.9" y2="181.1" stroke="#cfd1d6" stroke-width="2.2"/>
<line x1="3720.2" y1="179.6" x2="3731.9" y2="190.5" stroke="#cfd1d6" stroke-width="1.4"/>
<line x1="3726.3" y1="173.0" x2="3738.0" y2="183.9" stroke="#cfd1d6" stroke-width="1.4"/>
</g>
<path d="M3544.6 153.0C3541.6 151.3 3535.3 158.8 3531.4 162.9C3527.5 167.1 3523.5 171.7 3521.5 177.8C3519.4 183.9 3520.1 192.4 3519.0 199.3C3517.9 206.2 3517.5 212.9 3514.8 219.2C3512.2 225.6 3504.8 233.5 3503.2 237.4C3501.7 241.3 3502.4 243.4 3505.7 242.7C3509.0 242.0 3518.3 237.2 3523.1 233.3C3527.9 229.4 3531.9 224.6 3534.7 219.2C3537.5 213.8 3538.0 206.5 3539.7 201.0C3541.3 195.5 3543.0 190.8 3544.6 186.1C3546.3 181.4 3549.6 178.4 3549.6 172.8C3549.6 167.3 3547.7 154.6 3544.6 153.0Z" fill="#7c2119"/>
<path d="M3540.5 157.1C3538.8 156.3 3528.5 165.3 3525.6 171.2C3522.6 177.1 3523.8 185.3 3522.8 192.7C3521.8 200.2 3521.9 208.9 3519.5 215.9C3517.0 222.9 3508.6 232.5 3508.2 234.9C3507.9 237.4 3514.1 234.0 3517.3 230.8C3520.5 227.6 3524.8 221.7 3527.3 215.9C3529.7 210.1 3530.8 202.6 3532.2 196.0C3533.6 189.4 3534.2 182.6 3535.5 176.2C3536.9 169.7 3542.2 157.9 3540.5 157.1Z" fill="#de5a4b"/>
<path d="M3555.4 206.0C3564.1 204.6 3597.4 197.7 3605.9 207.6C3614.4 217.5 3606.1 244.9 3606.2 265.6C3606.4 286.3 3608.6 321.9 3606.9 331.8C3605.2 341.7 3600.0 327.9 3596.0 325.2C3591.9 322.4 3587.1 319.1 3582.7 315.2C3578.3 311.4 3573.3 306.1 3569.5 302.0C3565.6 297.8 3563.1 296.2 3559.5 290.4C3555.9 284.6 3551.0 274.1 3547.9 267.2C3544.9 260.3 3542.7 253.4 3541.3 249.0C3539.9 244.6 3539.1 244.0 3539.7 240.7C3540.2 237.4 3542.3 233.3 3544.6 229.1C3547.0 225.0 3551.9 219.8 3553.7 215.9C3555.5 212.0 3546.7 207.3 3555.4 206.0Z" fill="#de5a4b"/>
<polygon points="3556.2,230.8 3561.2,232.5 3555.4,278.8 3549.6,272.2" fill="#a3352a"/>
<polygon points="3567.8,230.8 3572.8,232.5 3576.1,305.3 3569.5,298.7" fill="#a3352a"/>
<polygon points="3580.2,230.8 3585.2,232.5 3589.3,316.9 3584.4,310.3" fill="#a3352a"/>
<polygon points="3591.8,230.8 3596.8,232.5 3600.9,326.8 3596.0,320.2" fill="#a3352a"/>
<polygon points="3599.3,232.5 3605.9,230.8 3606.9,331.8 3601.8,329.3" fill="#7c2119"/>
<polygon points="3539.7,240.7 3545.5,229.1 3549.6,232.5 3546.3,258.9" fill="#7c2119"/>
<path d="M3544.6 153.0C3548.5 150.8 3555.7 148.1 3559.5 148.3C3563.4 148.6 3565.1 151.7 3567.8 154.6C3570.6 157.6 3573.6 162.1 3576.1 166.2C3578.6 170.4 3580.5 175.5 3582.7 179.5C3584.9 183.5 3586.9 188.9 3589.3 190.2C3591.8 191.6 3595.3 189.8 3597.6 187.7C3600.0 185.7 3602.0 181.4 3603.4 177.8C3604.8 174.2 3604.9 165.9 3605.9 166.2C3606.9 166.5 3608.8 175.1 3609.5 179.5C3610.2 183.9 3610.6 188.0 3610.0 192.7C3609.4 197.4 3610.4 205.4 3605.9 207.6C3601.3 209.8 3591.1 206.2 3582.7 206.0C3574.3 205.7 3560.9 207.1 3555.4 206.0C3549.9 204.9 3552.2 200.4 3549.6 199.3C3547.0 198.2 3542.7 201.5 3539.7 199.3C3536.6 197.1 3533.2 190.5 3531.4 186.1C3529.6 181.7 3528.1 177.0 3528.9 172.8C3529.7 168.7 3533.7 164.6 3536.4 161.3C3539.0 157.9 3540.8 155.1 3544.6 153.0Z" fill="#de5a4b"/>
<path d="M3547.9 177.8C3549.3 175.1 3556.2 171.5 3559.5 172.8C3562.8 174.2 3565.1 182.4 3567.8 186.1C3570.6 189.8 3572.5 193.3 3576.1 195.2C3579.7 197.1 3584.6 198.1 3589.3 197.7C3594.0 197.3 3601.5 192.4 3604.2 192.7C3607.0 193.0 3608.4 197.5 3605.9 199.3C3603.4 201.1 3594.9 203.1 3589.3 203.5C3583.8 203.9 3577.7 203.1 3572.8 201.8C3567.8 200.6 3563.1 198.1 3559.5 196.0C3555.9 194.0 3553.2 192.4 3551.3 189.4C3549.3 186.4 3546.6 180.6 3547.9 177.8Z" fill="#a3352a"/>
<path d="M3546.3 156.3C3546.8 153.3 3553.2 153.0 3556.2 154.6C3559.3 156.3 3563.7 162.4 3564.5 166.2C3565.3 170.1 3563.1 176.7 3561.2 177.8C3559.3 178.9 3555.4 176.4 3552.9 172.8C3550.4 169.3 3545.7 159.3 3546.3 156.3Z" fill="#a3352a" opacity="0.7"/>
<path d="M3554.9 206.0C3558.0 206.2 3567.0 212.2 3572.8 214.2C3578.5 216.3 3584.0 217.4 3589.3 218.4C3594.7 219.3 3602.5 218.5 3605.1 220.0C3607.6 221.6 3607.2 226.5 3604.6 227.5C3601.9 228.4 3594.8 226.8 3589.3 225.8C3583.9 224.9 3577.8 223.8 3572.0 221.7C3566.1 219.5 3557.1 215.5 3554.2 212.9C3551.4 210.3 3551.8 205.7 3554.9 206.0Z" fill="#8a4a22"/>
<polygon points="3587.7,215.9 3597.6,214.2 3604.2,220.9 3601.8,230.8 3591.0,232.5 3584.7,225.0" fill="#b8752f" stroke="#5e2d12" stroke-width="1.2"/>
<text x="3594.5" y="226.7" font-family="'Liberation Serif',serif" font-style="italic" font-weight="bold" font-size="9" text-anchor="middle" fill="#5e2d12">S</text>
<polygon points="3602.6,165.4 3617.5,170.4 3613.3,182.8 3605.9,186.1 3604.2,177.8" fill="#7c2119"/>
<polygon points="3611.7,169.5 3617.8,171.5 3614.5,181.5 3610.5,179.5" fill="#c98445"/>
<path d="M3608.4 179.5C3609.7 177.4 3614.4 176.7 3615.8 177.8C3617.2 178.9 3617.2 183.6 3616.7 186.1C3616.1 188.6 3614.0 192.0 3612.5 192.7C3611.1 193.4 3608.6 192.4 3607.9 190.2C3607.2 188.0 3607.1 181.5 3608.4 179.5Z" fill="#e6ad77"/>
<path d="M3559.5 144.7C3560.0 142.4 3562.6 139.5 3565.3 137.3C3568.1 135.0 3572.1 132.9 3576.1 131.5C3580.1 130.0 3585.1 128.7 3589.3 128.5C3593.6 128.3 3598.8 128.6 3601.8 130.3C3604.7 132.0 3606.8 136.3 3607.2 138.4C3607.6 140.5 3606.1 141.2 3604.2 143.0C3602.4 144.9 3598.4 147.7 3596.0 149.7C3593.5 151.6 3591.5 152.4 3589.3 154.6C3587.1 156.8 3584.9 161.0 3582.7 162.9C3580.5 164.8 3578.6 167.1 3576.1 166.2C3573.6 165.4 3570.0 160.4 3567.8 157.9C3565.6 155.5 3564.2 153.5 3562.8 151.3C3561.5 149.1 3559.1 147.0 3559.5 144.7Z" fill="#fff"/>
<path d="M3584.4 137.3C3586.0 135.6 3588.4 132.8 3591.0 132.3C3593.6 131.7 3597.6 132.7 3600.1 133.9C3602.6 135.2 3605.2 137.4 3605.9 139.7C3606.6 142.1 3605.1 145.8 3604.2 148.0C3603.4 150.2 3601.6 151.3 3600.6 153.0C3599.6 154.6 3600.3 157.4 3598.4 157.9C3596.6 158.5 3592.0 157.7 3589.3 156.3C3586.7 154.9 3584.0 152.0 3582.7 149.7C3581.4 147.3 3581.1 144.3 3581.4 142.2C3581.7 140.1 3582.8 138.9 3584.4 137.3Z" fill="#e0a065"/>
<path d="M3585.2 135.6C3585.9 134.3 3591.7 131.8 3593.5 131.8C3595.3 131.8 3596.7 134.3 3596.0 135.6C3595.3 136.9 3591.1 139.7 3589.3 139.7C3587.5 139.7 3584.5 136.9 3585.2 135.6Z" fill="#fff"/>
<polygon points="3591.8,143.4 3601.3,146.4 3600.6,149.0 3591.3,145.7" fill="#5b2f17"/>
<path d="M3579.4 154.6C3580.8 152.4 3584.1 152.6 3586.9 152.6C3589.6 152.6 3593.7 153.7 3596.0 154.6C3598.3 155.6 3599.6 155.2 3600.6 158.3C3601.6 161.3 3602.3 168.3 3601.8 172.8C3601.2 177.3 3599.6 182.3 3597.3 185.3C3595.0 188.2 3590.4 192.0 3588.0 190.7C3585.6 189.5 3584.3 181.9 3582.7 177.8C3581.1 173.7 3579.1 170.1 3578.6 166.2C3578.0 162.4 3578.0 156.9 3579.4 154.6Z" fill="#fff"/>
<path d="M3590.3 157.1C3591.0 156.3 3596.1 155.5 3597.6 156.0C3599.2 156.4 3600.3 159.1 3599.6 159.9C3598.9 160.8 3595.0 161.4 3593.5 160.9C3591.9 160.5 3589.6 157.9 3590.3 157.1Z" fill="#d9d9de"/>
<path d="M3534.7 122.4L3539.7 149.7L3543.0 174.5L3547.1 199.3L3550.4 232.5L3552.9 257.3L3559.2 268.9L3562.8 282.1L3563.2 295.4" fill="none" stroke="#a8622a" stroke-width="4.6" stroke-linejoin="round"/>
<path d="M3535.7 122.4L3540.7 149.7L3544.0 174.5L3548.1 199.3L3551.4 232.5L3553.9 257.3L3560.2 268.9L3563.8 282.1L3564.2 295.4" fill="none" stroke="#e0a04d" stroke-width="1.3" stroke-linejoin="round"/>
<circle cx="3533" cy="111.6" r="10.2" fill="#cfd2dc" stroke="#f4f5f8" stroke-width="1.6"/>
<path d="M3529.7 174.5C3530.8 171.7 3535.1 172.3 3538.0 172.8C3540.9 173.4 3545.5 175.1 3547.1 177.8C3548.8 180.6 3549.2 186.5 3547.9 189.4C3546.7 192.3 3542.4 195.2 3539.7 195.2C3536.9 195.2 3533.0 192.9 3531.4 189.4C3529.7 186.0 3528.6 177.3 3529.7 174.5Z" fill="#e6ad77"/>
<path d="M3532.2 179.5L3546.3 182.0M3532.7 184.4L3546.3 186.9" stroke="#b5723d" stroke-width="1"/>
<path d="M3647.7 353.3A134 134 0 0 1 3531.7 252.4" fill="none" stroke="#d2d5e0" stroke-width="16"/>
<defs><path id="arcb" d="M3504.1 231.0A158.0 158.0 0 0 0 3819.7 220.0"/></defs>
<text font-family="'Liberation Sans',sans-serif" font-weight="bold" font-size="13.6" fill="#fff"><textPath href="#arcb" startOffset="28.7" textLength="440" lengthAdjust="spacing">BALL • NASA LANGLEY RESEARCH CENTER • TAS-I • ESA</textPath></text>
</g>
<text fill="#fff" xml:space="preserve"><tspan x="777.3" y="101.7" font-family="'Liberation Sans', sans-serif" font-weight="bold" font-size="79.7" textLength="216.6" lengthAdjust="spacingAndGlyphs" stroke="#fff" stroke-width="2.07" stroke-linejoin="round">SAGE</tspan> <tspan x="1023.3" y="101.7" font-family="'Liberation Mono', monospace" font-weight="bold" font-size="83.2" textLength="40.2" lengthAdjust="spacingAndGlyphs" stroke="#fff" stroke-width="4.16" stroke-linejoin="round">I</tspan><tspan x="1067.4" y="101.7" font-family="'Liberation Mono', monospace" font-weight="bold" font-size="83.2" textLength="40.2" lengthAdjust="spacingAndGlyphs" stroke="#fff" stroke-width="4.16" stroke-linejoin="round">I</tspan><tspan x="1111.6" y="101.7" font-family="'Liberation Mono', monospace" font-weight="bold" font-size="83.2" textLength="40.2" lengthAdjust="spacingAndGlyphs" stroke="#fff" stroke-width="4.16" stroke-linejoin="round">I</tspan><tspan x="1157.9" y="112.6" font-family="'Liberation Sans', sans-serif" font-weight="normal" font-size="90.0" textLength="40.4" lengthAdjust="spacingAndGlyphs" stroke="#fff" stroke-width="2.52" stroke-linejoin="round">/</tspan><tspan x="1204.3" y="101.7" font-family="'Liberation Mono', monospace" font-weight="bold" font-size="83.2" textLength="39.9" lengthAdjust="spacingAndGlyphs" stroke="#fff" stroke-width="4.16" stroke-linejoin="round">I</tspan><tspan x="1247.1" y="101.7" font-family="'Liberation Sans', sans-serif" font-weight="bold" font-size="79.7" textLength="99.7" lengthAdjust="spacingAndGlyphs" stroke="#fff" stroke-width="2.07" stroke-linejoin="round">SS</tspan> <tspan x="1375.6" y="101.7" font-family="'Liberation Sans', sans-serif" font-weight="bold" font-size="79.7" textLength="310.2" lengthAdjust="spacingAndGlyphs" stroke="#fff" stroke-width="2.07" stroke-linejoin="round">1021nm</tspan> <tspan x="1713.5" y="101.7" font-family="'Liberation Sans', sans-serif" font-weight="bold" font-size="79.7" textLength="306.5" lengthAdjust="spacingAndGlyphs" stroke="#fff" stroke-width="2.07" stroke-linejoin="round">Aerosol</tspan><tspan x="2020.2" y="101.7" font-family="'Liberation Sans', sans-serif" font-weight="bold" font-size="79.7" textLength="34.5" lengthAdjust="spacingAndGlyphs" stroke="#fff" stroke-width="2.07" stroke-linejoin="round">-</tspan><tspan x="2058.0" y="101.7" font-family="'Liberation Sans', sans-serif" font-weight="bold" font-size="79.7" textLength="78.5" lengthAdjust="spacingAndGlyphs" stroke="#fff" stroke-width="2.07" stroke-linejoin="round">to</tspan><tspan x="2139.4" y="101.7" font-family="'Liberation Sans', sans-serif" font-weight="bold" font-size="79.7" textLength="34.5" lengthAdjust="spacingAndGlyphs" stroke="#fff" stroke-width="2.07" stroke-linejoin="round">-</tspan><tspan x="2176.3" y="101.7" font-family="'Liberation Sans', sans-serif" font-weight="bold" font-size="79.7" textLength="397.0" lengthAdjust="spacingAndGlyphs" stroke="#fff" stroke-width="2.07" stroke-linejoin="round">Molecular</tspan> <tspan x="2603.6" y="101.7" font-family="'Liberation Sans', sans-serif" font-weight="bold" font-size="79.7" textLength="409.1" lengthAdjust="spacingAndGlyphs" stroke="#fff" stroke-width="2.07" stroke-linejoin="round">Extinction</tspan> <tspan x="3040.8" y="101.7" font-family="'Liberation Sans', sans-serif" font-weight="bold" font-size="79.7" textLength="214.7" lengthAdjust="spacingAndGlyphs" stroke="#fff" stroke-width="2.07" stroke-linejoin="round">Ratio</tspan></text>
<text fill="#fff" xml:space="preserve"><tspan x="1722.4" y="190.2" font-family="'Liberation Sans', sans-serif" font-weight="bold" font-size="79.7" textLength="88.5" lengthAdjust="spacingAndGlyphs" stroke="#fff" stroke-width="2.07" stroke-linejoin="round">19</tspan> <tspan x="1839.4" y="190.2" font-family="'Liberation Sans', sans-serif" font-weight="bold" font-size="79.7" textLength="243.0" lengthAdjust="spacingAndGlyphs" stroke="#fff" stroke-width="2.07" stroke-linejoin="round">March</tspan> <tspan x="2115.9" y="190.2" font-family="'Liberation Sans', sans-serif" font-weight="bold" font-size="79.7" textLength="195.6" lengthAdjust="spacingAndGlyphs" stroke="#fff" stroke-width="2.07" stroke-linejoin="round">2020</tspan></text>
<text fill="#fff" xml:space="preserve"><tspan x="1158.1" y="196.2" font-family="'Liberation Sans', sans-serif" font-weight="bold" font-size="67.9" textLength="248.6" lengthAdjust="spacingAndGlyphs" stroke="#fff" stroke-width="1.76" stroke-linejoin="round">Sunrise</tspan></text>
<text fill="#fff" xml:space="preserve"><tspan x="2637.2" y="196.2" font-family="'Liberation Sans', sans-serif" font-weight="bold" font-size="67.9" textLength="222.8" lengthAdjust="spacingAndGlyphs" stroke="#fff" stroke-width="1.76" stroke-linejoin="round">Sunset</tspan></text>
<text fill="#fff" xml:space="preserve"><tspan x="595.8" y="234.0" font-family="'Liberation Sans', sans-serif" font-weight="normal" font-size="47.0" textLength="52.6" lengthAdjust="spacingAndGlyphs" stroke="#fff" stroke-width="1.32" stroke-linejoin="round">50</tspan></text>
<text fill="#fff" xml:space="preserve"><tspan x="597.2" y="430.6" font-family="'Liberation Sans', sans-serif" font-weight="normal" font-size="47.0" textLength="50.6" lengthAdjust="spacingAndGlyphs" stroke="#fff" stroke-width="1.32" stroke-linejoin="round">45</tspan></text>
<text fill="#fff" xml:space="preserve"><tspan x="596.2" y="627.3" font-family="'Liberation Sans', sans-serif" font-weight="normal" font-size="47.0" textLength="52.1" lengthAdjust="spacingAndGlyphs" stroke="#fff" stroke-width="1.32" stroke-linejoin="round">40</tspan></text>
<text fill="#fff" xml:space="preserve"><tspan x="596.8" y="823.9" font-family="'Liberation Sans', sans-serif" font-weight="normal" font-size="47.0" textLength="51.0" lengthAdjust="spacingAndGlyphs" stroke="#fff" stroke-width="1.32" stroke-linejoin="round">35</tspan></text>
<text fill="#fff" xml:space="preserve"><tspan x="596.1" y="1020.6" font-family="'Liberation Sans', sans-serif" font-weight="normal" font-size="47.0" textLength="49.3" lengthAdjust="spacingAndGlyphs" stroke="#fff" stroke-width="1.32" stroke-linejoin="round">30</tspan></text>
<text fill="#fff" xml:space="preserve"><tspan x="597.4" y="1217.2" font-family="'Liberation Sans', sans-serif" font-weight="normal" font-size="47.0" textLength="49.4" lengthAdjust="spacingAndGlyphs" stroke="#fff" stroke-width="1.32" stroke-linejoin="round">25</tspan></text>
<text fill="#fff" xml:space="preserve"><tspan x="595.8" y="1413.9" font-family="'Liberation Sans', sans-serif" font-weight="normal" font-size="47.0" textLength="52.5" lengthAdjust="spacingAndGlyphs" stroke="#fff" stroke-width="1.32" stroke-linejoin="round">20</tspan></text>
<text fill="#fff" xml:space="preserve"><tspan x="599.6" y="1610.5" font-family="'Liberation Sans', sans-serif" font-weight="normal" font-size="47.0" textLength="48.2" lengthAdjust="spacingAndGlyphs" stroke="#fff" stroke-width="1.32" stroke-linejoin="round">15</tspan></text>
<text fill="#fff" xml:space="preserve"><tspan x="598.3" y="1807.2" font-family="'Liberation Sans', sans-serif" font-weight="normal" font-size="47.0" textLength="48.6" lengthAdjust="spacingAndGlyphs" stroke="#fff" stroke-width="1.32" stroke-linejoin="round">10</tspan></text>
<text fill="#fff" xml:space="preserve"><tspan x="770.2" y="1926.6" font-family="'Liberation Sans', sans-serif" font-weight="normal" font-size="47.0" textLength="26.5" lengthAdjust="spacingAndGlyphs" stroke="#fff" stroke-width="1.32" stroke-linejoin="round">0</tspan></text>
<text fill="#fff" xml:space="preserve"><tspan x="980.4" y="1926.6" font-family="'Liberation Sans', sans-serif" font-weight="normal" font-size="47.0" textLength="50.1" lengthAdjust="spacingAndGlyphs" stroke="#fff" stroke-width="1.32" stroke-linejoin="round">20</tspan></text>
<text fill="#fff" xml:space="preserve"><tspan x="1201.4" y="1926.6" font-family="'Liberation Sans', sans-serif" font-weight="normal" font-size="47.0" textLength="53.9" lengthAdjust="spacingAndGlyphs" stroke="#fff" stroke-width="1.32" stroke-linejoin="round">40</tspan></text>
<text fill="#fff" xml:space="preserve"><tspan x="1423.9" y="1926.6" font-family="'Liberation Sans', sans-serif" font-weight="normal" font-size="47.0" textLength="51.5" lengthAdjust="spacingAndGlyphs" stroke="#fff" stroke-width="1.32" stroke-linejoin="round">60</tspan></text>
<text fill="#fff" xml:space="preserve"><tspan x="1645.9" y="1926.6" font-family="'Liberation Sans', sans-serif" font-weight="normal" font-size="47.0" textLength="52.3" lengthAdjust="spacingAndGlyphs" stroke="#fff" stroke-width="1.32" stroke-linejoin="round">80</tspan></text>
<text fill="#fff" xml:space="preserve"><tspan x="1854.9" y="1926.6" font-family="'Liberation Sans', sans-serif" font-weight="normal" font-size="47.0" textLength="76.9" lengthAdjust="spacingAndGlyphs" stroke="#fff" stroke-width="1.32" stroke-linejoin="round">100</tspan></text>
<text fill="#fff" xml:space="preserve"><tspan x="2062.0" y="234.0" font-family="'Liberation Sans', sans-serif" font-weight="normal" font-size="47.0" textLength="52.6" lengthAdjust="spacingAndGlyphs" stroke="#fff" stroke-width="1.32" stroke-linejoin="round">50</tspan></text>
<text fill="#fff" xml:space="preserve"><tspan x="2063.4" y="430.6" font-family="'Liberation Sans', sans-serif" font-weight="normal" font-size="47.0" textLength="50.6" lengthAdjust="spacingAndGlyphs" stroke="#fff" stroke-width="1.32" stroke-linejoin="round">45</tspan></text>
<text fill="#fff" xml:space="preserve"><tspan x="2062.4" y="627.3" font-family="'Liberation Sans', sans-serif" font-weight="normal" font-size="47.0" textLength="52.1" lengthAdjust="spacingAndGlyphs" stroke="#fff" stroke-width="1.32" stroke-linejoin="round">40</tspan></text>
<text fill="#fff" xml:space="preserve"><tspan x="2063.0" y="823.9" font-family="'Liberation Sans', sans-serif" font-weight="normal" font-size="47.0" textLength="51.0" lengthAdjust="spacingAndGlyphs" stroke="#fff" stroke-width="1.32" stroke-linejoin="round">35</tspan></text>
<text fill="#fff" xml:space="preserve"><tspan x="2062.3" y="1020.6" font-family="'Liberation Sans', sans-serif" font-weight="normal" font-size="47.0" textLength="49.3" lengthAdjust="spacingAndGlyphs" stroke="#fff" stroke-width="1.32" stroke-linejoin="round">30</tspan></text>
<text fill="#fff" xml:space="preserve"><tspan x="2063.6" y="1217.2" font-family="'Liberation Sans', sans-serif" font-weight="normal" font-size="47.0" textLength="49.4" lengthAdjust="spacingAndGlyphs" stroke="#fff" stroke-width="1.32" stroke-linejoin="round">25</tspan></text>
<text fill="#fff" xml:space="preserve"><tspan x="2062.0" y="1413.9" font-family="'Liberation Sans', sans-serif" font-weight="normal" font-size="47.0" textLength="52.5" lengthAdjust="spacingAndGlyphs" stroke="#fff" stroke-width="1.32" stroke-linejoin="round">20</tspan></text>
<text fill="#fff" xml:space="preserve"><tspan x="2065.8" y="1610.5" font-family="'Liberation Sans', sans-serif" font-weight="normal" font-size="47.0" textLength="48.2" lengthAdjust="spacingAndGlyphs" stroke="#fff" stroke-width="1.32" stroke-linejoin="round">15</tspan></text>
<text fill="#fff" xml:space="preserve"><tspan x="2064.5" y="1807.2" font-family="'Liberation Sans', sans-serif" font-weight="normal" font-size="47.0" textLength="48.6" lengthAdjust="spacingAndGlyphs" stroke="#fff" stroke-width="1.32" stroke-linejoin="round">10</tspan></text>
<text fill="#fff" xml:space="preserve"><tspan x="2236.4" y="1926.6" font-family="'Liberation Sans', sans-serif" font-weight="normal" font-size="47.0" textLength="26.5" lengthAdjust="spacingAndGlyphs" stroke="#fff" stroke-width="1.32" stroke-linejoin="round">0</tspan></text>
<text fill="#fff" xml:space="preserve"><tspan x="2446.6" y="1926.6" font-family="'Liberation Sans', sans-serif" font-weight="normal" font-size="47.0" textLength="50.1" lengthAdjust="spacingAndGlyphs" stroke="#fff" stroke-width="1.32" stroke-linejoin="round">20</tspan></text>
<text fill="#fff" xml:space="preserve"><tspan x="2667.6" y="1926.6" font-family="'Liberation Sans', sans-serif" font-weight="normal" font-size="47.0" textLength="53.9" lengthAdjust="spacingAndGlyphs" stroke="#fff" stroke-width="1.32" stroke-linejoin="round">40</tspan></text>
<text fill="#fff" xml:space="preserve"><tspan x="2890.1" y="1926.6" font-family="'Liberation Sans', sans-serif" font-weight="normal" font-size="47.0" textLength="51.5" lengthAdjust="spacingAndGlyphs" stroke="#fff" stroke-width="1.32" stroke-linejoin="round">60</tspan></text>
<text fill="#fff" xml:space="preserve"><tspan x="3112.1" y="1926.6" font-family="'Liberation Sans', sans-serif" font-weight="normal" font-size="47.0" textLength="52.3" lengthAdjust="spacingAndGlyphs" stroke="#fff" stroke-width="1.32" stroke-linejoin="round">80</tspan></text>
<text fill="#fff" xml:space="preserve"><tspan x="3321.1" y="1926.6" font-family="'Liberation Sans', sans-serif" font-weight="normal" font-size="47.0" textLength="76.9" lengthAdjust="spacingAndGlyphs" stroke="#fff" stroke-width="1.32" stroke-linejoin="round">100</tspan></text>
<text fill="#fff" xml:space="preserve"><tspan x="733.2" y="2001.9" font-family="'Liberation Sans', sans-serif" font-weight="normal" font-size="60.8" textLength="216.4" lengthAdjust="spacingAndGlyphs" stroke="#fff" stroke-width="1.70" stroke-linejoin="round">Aerosol</tspan><tspan x="950.5" y="2001.9" font-family="'Liberation Sans', sans-serif" font-weight="normal" font-size="60.8" textLength="22.3" lengthAdjust="spacingAndGlyphs" stroke="#fff" stroke-width="1.70" stroke-linejoin="round">-</tspan><tspan x="974.1" y="2001.9" font-family="'Liberation Sans', sans-serif" font-weight="normal" font-size="60.8" textLength="71.5" lengthAdjust="spacingAndGlyphs" stroke="#fff" stroke-width="1.70" stroke-linejoin="round">To</tspan><tspan x="1047.4" y="2001.9" font-family="'Liberation Sans', sans-serif" font-weight="normal" font-size="60.8" textLength="21.0" lengthAdjust="spacingAndGlyphs" stroke="#fff" stroke-width="1.70" stroke-linejoin="round">-</tspan><tspan x="1068.4" y="2001.9" font-family="'Liberation Sans', sans-serif" font-weight="normal" font-size="60.8" textLength="280.0" lengthAdjust="spacingAndGlyphs" stroke="#fff" stroke-width="1.70" stroke-linejoin="round">Molecular</tspan> <tspan x="1371.4" y="2001.9" font-family="'Liberation Sans', sans-serif" font-weight="normal" font-size="60.8" textLength="289.9" lengthAdjust="spacingAndGlyphs" stroke="#fff" stroke-width="1.70" stroke-linejoin="round">Extinction</tspan> <tspan x="1679.5" y="2001.9" font-family="'Liberation Sans', sans-serif" font-weight="normal" font-size="60.8" textLength="154.2" lengthAdjust="spacingAndGlyphs" stroke="#fff" stroke-width="1.70" stroke-linejoin="round">Ratio</tspan></text>
<text fill="#fff" transform="translate(558.7 1233.8) rotate(-90)" xml:space="preserve"><tspan x="1.0" y="0.0" font-family="'Liberation Sans', sans-serif" font-weight="normal" font-size="60.8" textLength="380.7" lengthAdjust="spacingAndGlyphs" stroke="#fff" stroke-width="1.70" stroke-linejoin="round">Altitude [km]</tspan></text>
<text fill="#fff" xml:space="preserve"><tspan x="2199.4" y="2001.9" font-family="'Liberation Sans', sans-serif" font-weight="normal" font-size="60.8" textLength="216.4" lengthAdjust="spacingAndGlyphs" stroke="#fff" stroke-width="1.70" stroke-linejoin="round">Aerosol</tspan><tspan x="2416.7" y="2001.9" font-family="'Liberation Sans', sans-serif" font-weight="normal" font-size="60.8" textLength="22.3" lengthAdjust="spacingAndGlyphs" stroke="#fff" stroke-width="1.70" stroke-linejoin="round">-</tspan><tspan x="2440.3" y="2001.9" font-family="'Liberation Sans', sans-serif" font-weight="normal" font-size="60.8" textLength="71.5" lengthAdjust="spacingAndGlyphs" stroke="#fff" stroke-width="1.70" stroke-linejoin="round">To</tspan><tspan x="2513.6" y="2001.9" font-family="'Liberation Sans', sans-serif" font-weight="normal" font-size="60.8" textLength="21.0" lengthAdjust="spacingAndGlyphs" stroke="#fff" stroke-width="1.70" stroke-linejoin="round">-</tspan><tspan x="2534.6" y="2001.9" font-family="'Liberation Sans', sans-serif" font-weight="normal" font-size="60.8" textLength="280.0" lengthAdjust="spacingAndGlyphs" stroke="#fff" stroke-width="1.70" stroke-linejoin="round">Molecular</tspan> <tspan x="2837.6" y="2001.9" font-family="'Liberation Sans', sans-serif" font-weight="normal" font-size="60.8" textLength="289.9" lengthAdjust="spacingAndGlyphs" stroke="#fff" stroke-width="1.70" stroke-linejoin="round">Extinction</tspan> <tspan x="3145.7" y="2001.9" font-family="'Liberation Sans', sans-serif" font-weight="normal" font-size="60.8" textLength="154.2" lengthAdjust="spacingAndGlyphs" stroke="#fff" stroke-width="1.70" stroke-linejoin="round">Ratio</tspan></text>
<text fill="#fff" transform="translate(2024.9 1233.8) rotate(-90)" xml:space="preserve"><tspan x="1.0" y="0.0" font-family="'Liberation Sans', sans-serif" font-weight="normal" font-size="60.8" textLength="380.7" lengthAdjust="spacingAndGlyphs" stroke="#fff" stroke-width="1.70" stroke-linejoin="round">Altitude [km]</tspan></text>
<text fill="#fff" xml:space="preserve"><tspan x="1228.3" y="1018.0" font-family="'Liberation Sans', sans-serif" font-weight="normal" font-size="80.8" textLength="110.0" lengthAdjust="spacingAndGlyphs" stroke="#fff" stroke-width="2.26" stroke-linejoin="round">No</tspan></text>
<text fill="#fff" xml:space="preserve"><tspan x="1122.4" y="1107.1" font-family="'Liberation Sans', sans-serif" font-weight="normal" font-size="80.8" textLength="323.2" lengthAdjust="spacingAndGlyphs" stroke="#fff" stroke-width="2.26" stroke-linejoin="round">Sunrises</tspan></text>
<text fill="#fff" xml:space="preserve"><tspan x="3509.2" y="863.7" font-family="'Liberation Sans', sans-serif" font-weight="normal" font-size="39.0" textLength="273.7" lengthAdjust="spacingAndGlyphs" stroke="#fff" stroke-width="1.09" stroke-linejoin="round">2020031902SS</tspan></text>
<text fill="#fff" xml:space="preserve"><tspan x="3509.2" y="922.7" font-family="'Liberation Sans', sans-serif" font-weight="normal" font-size="39.0" textLength="274.3" lengthAdjust="spacingAndGlyphs" stroke="#fff" stroke-width="1.09" stroke-linejoin="round">2020031905SS</tspan></text>
<text fill="#fff" xml:space="preserve"><tspan x="3509.2" y="981.7" font-family="'Liberation Sans', sans-serif" font-weight="normal" font-size="39.0" textLength="275.1" lengthAdjust="spacingAndGlyphs" stroke="#fff" stroke-width="1.09" stroke-linejoin="round">2020031908SS</tspan></text>
<text fill="#fff" xml:space="preserve"><tspan x="3509.2" y="1040.7" font-family="'Liberation Sans', sans-serif" font-weight="normal" font-size="39.0" textLength="267.1" lengthAdjust="spacingAndGlyphs" stroke="#fff" stroke-width="1.09" stroke-linejoin="round">2020031911SS</tspan></text>
<text fill="#fff" xml:space="preserve"><tspan x="3509.2" y="1099.7" font-family="'Liberation Sans', sans-serif" font-weight="normal" font-size="39.0" textLength="272.8" lengthAdjust="spacingAndGlyphs" stroke="#fff" stroke-width="1.09" stroke-linejoin="round">2020031914SS</tspan></text>
<text fill="#fff" xml:space="preserve"><tspan x="3509.2" y="1158.7" font-family="'Liberation Sans', sans-serif" font-weight="normal" font-size="39.0" textLength="269.2" lengthAdjust="spacingAndGlyphs" stroke="#fff" stroke-width="1.09" stroke-linejoin="round">2020031917SS</tspan></text>
<text fill="#fff" xml:space="preserve"><tspan x="3509.2" y="1217.7" font-family="'Liberation Sans', sans-serif" font-weight="normal" font-size="39.0" textLength="273.6" lengthAdjust="spacingAndGlyphs" stroke="#fff" stroke-width="1.09" stroke-linejoin="round">2020031920SS</tspan></text>
<text fill="#fff" xml:space="preserve"><tspan x="3509.2" y="1276.7" font-family="'Liberation Sans', sans-serif" font-weight="normal" font-size="39.0" textLength="270.5" lengthAdjust="spacingAndGlyphs" stroke="#fff" stroke-width="1.09" stroke-linejoin="round">2020031923SS</tspan></text>
<text fill="#fff" xml:space="preserve"><tspan x="3509.2" y="1335.7" font-family="'Liberation Sans', sans-serif" font-weight="normal" font-size="39.0" textLength="271.8" lengthAdjust="spacingAndGlyphs" stroke="#fff" stroke-width="1.09" stroke-linejoin="round">2020031926SS</tspan></text>
<text fill="#fff" xml:space="preserve"><tspan x="3509.2" y="1394.7" font-family="'Liberation Sans', sans-serif" font-weight="normal" font-size="39.0" textLength="271.2" lengthAdjust="spacingAndGlyphs" stroke="#fff" stroke-width="1.09" stroke-linejoin="round">2020031929SS</tspan></text>
<text fill="#fff" xml:space="preserve"><tspan x="3509.2" y="1453.7" font-family="'Liberation Sans', sans-serif" font-weight="normal" font-size="39.0" textLength="273.5" lengthAdjust="spacingAndGlyphs" stroke="#fff" stroke-width="1.09" stroke-linejoin="round">2020031934SS</tspan></text>
<text fill="#fff" xml:space="preserve"><tspan x="3509.2" y="1512.7" font-family="'Liberation Sans', sans-serif" font-weight="normal" font-size="39.0" textLength="270.5" lengthAdjust="spacingAndGlyphs" stroke="#fff" stroke-width="1.09" stroke-linejoin="round">2020031937SS</tspan></text>
<text fill="#fff" xml:space="preserve"><tspan x="3509.2" y="1571.7" font-family="'Liberation Sans', sans-serif" font-weight="normal" font-size="39.0" textLength="276.7" lengthAdjust="spacingAndGlyphs" stroke="#fff" stroke-width="1.09" stroke-linejoin="round">2020031940SS</tspan></text>
<text fill="#fff" xml:space="preserve"><tspan x="258.8" y="1218.0" font-family="'Liberation Sans', sans-serif" font-weight="normal" font-size="41.6" textLength="161.4" lengthAdjust="spacingAndGlyphs" stroke="#fff" stroke-width="1.16" stroke-linejoin="round">No Data</tspan></text>
<text fill="#fff" xml:space="preserve"><tspan x="152.4" y="1994.1" font-family="'Liberation Sans', sans-serif" font-weight="normal" font-size="42.4" textLength="349.5" lengthAdjust="spacingAndGlyphs" stroke="#fff" stroke-width="1.19" stroke-linejoin="round">Mean Tropopause</tspan></text>
<text fill="#fff" xml:space="preserve"><tspan x="152.4" y="2053.9" font-family="'Liberation Sans', sans-serif" font-weight="normal" font-size="42.4" textLength="385.2" lengthAdjust="spacingAndGlyphs" stroke="#fff" stroke-width="1.19" stroke-linejoin="round">Median Tropopause</tspan></text>
<text fill="#fff" xml:space="preserve"><tspan x="155.0" y="2113.2" font-family="'Liberation Sans', sans-serif" font-weight="normal" font-size="42.4" textLength="365.3" lengthAdjust="spacingAndGlyphs" stroke="#fff" stroke-width="1.19" stroke-linejoin="round">Tropopause Range</tspan></text>
<text fill="#808080" xml:space="preserve"><tspan x="3266.9" y="2039.3" font-family="'Liberation Sans', sans-serif" font-weight="normal" font-size="35.2" textLength="88.1" lengthAdjust="spacingAndGlyphs" stroke="#808080" stroke-width="0.98" stroke-linejoin="round">SAGE</tspan> <tspan x="3366.5" y="2039.3" font-family="'Liberation Mono', monospace" font-weight="normal" font-size="36.7" textLength="50.8" lengthAdjust="spacingAndGlyphs" stroke="#808080" stroke-width="1.84" stroke-linejoin="round">III</tspan><tspan x="3417.4" y="2039.3" font-family="'Liberation Sans', sans-serif" font-weight="normal" font-size="35.2" textLength="17.7" lengthAdjust="spacingAndGlyphs" stroke="#808080" stroke-width="0.98" stroke-linejoin="round">/</tspan><tspan x="3436.2" y="2039.3" font-family="'Liberation Mono', monospace" font-weight="normal" font-size="36.7" textLength="14.7" lengthAdjust="spacingAndGlyphs" stroke="#808080" stroke-width="1.84" stroke-linejoin="round">I</tspan><tspan x="3450.8" y="2039.3" font-family="'Liberation Sans', sans-serif" font-weight="normal" font-size="35.2" textLength="39.3" lengthAdjust="spacingAndGlyphs" stroke="#808080" stroke-width="0.98" stroke-linejoin="round">SS</tspan> <tspan x="3499.9" y="2039.3" font-family="'Liberation Sans', sans-serif" font-weight="normal" font-size="35.2" textLength="120.3" lengthAdjust="spacingAndGlyphs" stroke="#808080" stroke-width="0.98" stroke-linejoin="round">Mission</tspan> <tspan x="3627.4" y="2039.3" font-family="'Liberation Sans', sans-serif" font-weight="normal" font-size="35.2" textLength="9.6" lengthAdjust="spacingAndGlyphs" stroke="#808080" stroke-width="0.98" stroke-linejoin="round">|</tspan> <tspan x="3646.5" y="2039.3" font-family="'Liberation Sans', sans-serif" font-weight="normal" font-size="35.2" textLength="92.4" lengthAdjust="spacingAndGlyphs" stroke="#808080" stroke-width="0.98" stroke-linejoin="round">NASA</tspan> <tspan x="3748.4" y="2039.3" font-family="'Liberation Sans', sans-serif" font-weight="normal" font-size="35.2" textLength="90.7" lengthAdjust="spacingAndGlyphs" stroke="#808080" stroke-width="0.98" stroke-linejoin="round">LaRC</tspan></text>
<text fill="#808080" xml:space="preserve"><tspan x="3311.6" y="2076.7" font-family="'Liberation Sans', sans-serif" font-weight="normal" font-size="35.2" textLength="528.4" lengthAdjust="spacingAndGlyphs" stroke="#808080" stroke-width="0.98" stroke-linejoin="round">Preparer: Kevin R. Leavor (AMA)</tspan></text>
<text fill="#808080" xml:space="preserve"><tspan x="3388.8" y="2114.0" font-family="'Liberation Sans', sans-serif" font-weight="normal" font-size="35.2" textLength="174.2" lengthAdjust="spacingAndGlyphs" stroke="#808080" stroke-width="0.98" stroke-linejoin="round">Generated</tspan> <tspan x="3571.4" y="2114.0" font-family="'Liberation Sans', sans-serif" font-weight="normal" font-size="35.2" textLength="173.2" lengthAdjust="spacingAndGlyphs" stroke="#808080" stroke-width="0.98" stroke-linejoin="round">2025-07-17</tspan> <tspan x="3755.3" y="2114.0" font-family="'Liberation Sans', sans-serif" font-weight="normal" font-size="35.2" textLength="78.7" lengthAdjust="spacingAndGlyphs" stroke="#808080" stroke-width="0.98" stroke-linejoin="round">22:25</tspan></text>
<text fill="#808080" xml:space="preserve"><tspan x="3532.8" y="2150.5" font-family="'Liberation Sans', sans-serif" font-weight="normal" font-size="35.2" textLength="78.1" lengthAdjust="spacingAndGlyphs" stroke="#808080" stroke-width="0.98" stroke-linejoin="round">Data</tspan> <tspan x="3623.3" y="2150.5" font-family="'Liberation Sans', sans-serif" font-weight="normal" font-size="35.2" textLength="128.7" lengthAdjust="spacingAndGlyphs" stroke="#808080" stroke-width="0.98" stroke-linejoin="round">Version:</tspan> <tspan x="3762.4" y="2150.5" font-family="'Liberation Sans', sans-serif" font-weight="normal" font-size="35.2" textLength="72.2" lengthAdjust="spacingAndGlyphs" stroke="#808080" stroke-width="0.98" stroke-linejoin="round">6.0.0</tspan></text>
<text fill="#fff" xml:space="preserve"><tspan x="3526.1" y="58.9" font-family="'Liberation Serif', serif" font-weight="bold" font-size="41.5" textLength="112.6" lengthAdjust="spacingAndGlyphs">SAGE</tspan> <tspan x="3650.6" y="58.9" font-family="'Liberation Serif', serif" font-weight="bold" font-size="41.5" textLength="51.9" lengthAdjust="spacingAndGlyphs">III</tspan> <tspan x="3710.0" y="58.9" font-family="'Liberation Serif', serif" font-weight="bold" font-size="41.5" textLength="11.2" lengthAdjust="spacingAndGlyphs">•</tspan> <tspan x="3731.6" y="58.9" font-family="'Liberation Serif', serif" font-weight="bold" font-size="41.5" textLength="63.1" lengthAdjust="spacingAndGlyphs">ISS</tspan></text>
<text fill="#fff" xml:space="preserve"><tspan x="3527.8" y="71.4" font-family="'Liberation Sans', sans-serif" font-weight="normal" font-size="8.2" textLength="173.8" lengthAdjust="spacingAndGlyphs">Stratospheric Aerosol and Gas Experiment III</tspan></text>
<text fill="#fff" xml:space="preserve"><tspan x="3736.2" y="71.5" font-family="'Liberation Sans', sans-serif" font-weight="normal" font-size="8.6" textLength="53.9" lengthAdjust="spacingAndGlyphs">International</tspan></text>
<text fill="#fff" xml:space="preserve"><tspan x="3733.1" y="82.7" font-family="'Liberation Sans', sans-serif" font-weight="normal" font-size="8.6" textLength="60.5" lengthAdjust="spacingAndGlyphs">Space Station</tspan></text>
</svg></body></html>
